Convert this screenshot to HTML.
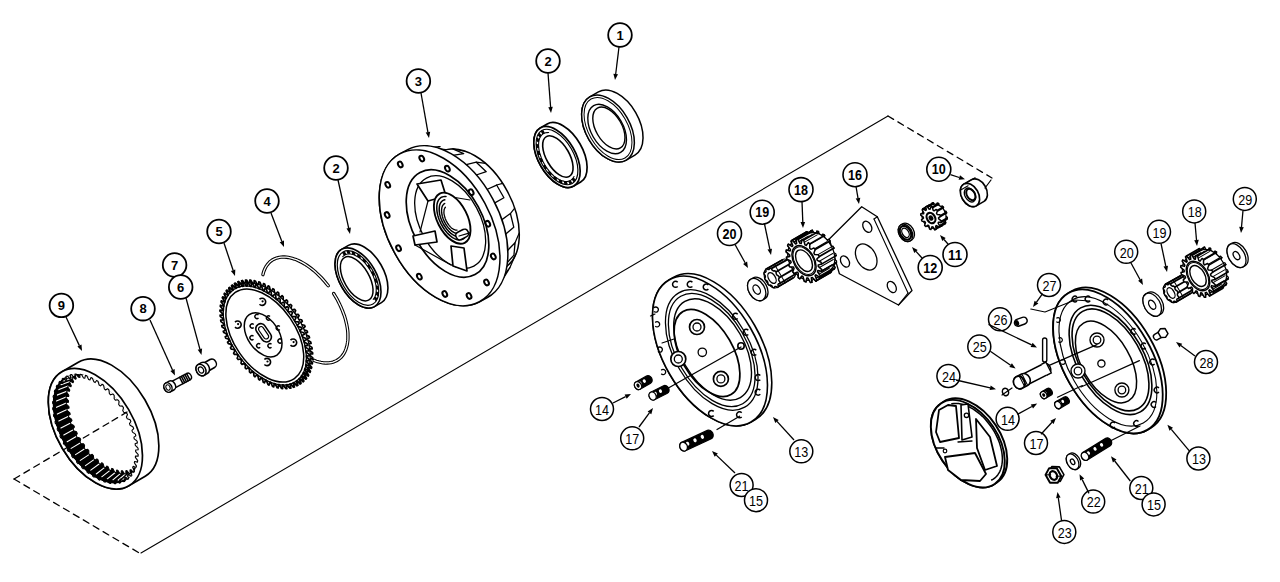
<!DOCTYPE html>
<html><head><meta charset="utf-8"><style>
html,body{margin:0;padding:0;background:#fff;width:1280px;height:582px;overflow:hidden}
svg{display:block}
text{font-family:"Liberation Sans",sans-serif;fill:#000}
</style></head><body>
<svg width="1280" height="582" viewBox="0 0 1280 582">
<rect width="1280" height="582" fill="#fff"/>
<line x1="141.0" y1="553.0" x2="888.0" y2="116.0" stroke="#000" stroke-width="1.1" stroke-linecap="round"/>
<line x1="888.0" y1="116.0" x2="992.0" y2="178.0" stroke="#000" stroke-width="1.3" stroke-linecap="round" stroke-dasharray="6.5,5"/>
<line x1="14.0" y1="479.0" x2="141.0" y2="554.0" stroke="#000" stroke-width="1.3" stroke-linecap="round" stroke-dasharray="6.5,5"/>
<g transform="translate(95.4,428.8) rotate(-30.4)">
<path d="M0.0,-66.1 L19.0,-66.1 A38.4,66.1 0 0 1 19.0,66.1 L0.0,66.1 A38.4,66.1 0 0 1 0.0,-66.1 Z" fill="#fff" stroke="#000" stroke-width="1.7" stroke-linejoin="round"/>
<ellipse cx="0.0" cy="0.0" rx="38.4" ry="66.1" fill="#fff" stroke="#000" stroke-width="1.7"/>
<clipPath id="r9c"><ellipse cx="0" cy="0" rx="34.9" ry="60.2"/></clipPath>
<g clip-path="url(#r9c)">
<ellipse cx="0.0" cy="0.0" rx="34.9" ry="60.2" fill="#000" stroke="#000" stroke-width="0"/>
<line x1="37.4" y1="3.1" x2="46.0" y2="3.0" stroke="#fff" stroke-width="1.1" stroke-linecap="round"/>
<line x1="36.9" y1="10.7" x2="45.5" y2="10.4" stroke="#fff" stroke-width="1.1" stroke-linecap="round"/>
<line x1="35.8" y1="18.2" x2="44.4" y2="17.6" stroke="#fff" stroke-width="1.1" stroke-linecap="round"/>
<line x1="34.1" y1="25.3" x2="42.8" y2="24.5" stroke="#fff" stroke-width="1.1" stroke-linecap="round"/>
<line x1="31.9" y1="32.0" x2="40.7" y2="31.0" stroke="#fff" stroke-width="1.1" stroke-linecap="round"/>
<line x1="29.2" y1="38.2" x2="38.1" y2="36.9" stroke="#fff" stroke-width="1.1" stroke-linecap="round"/>
<line x1="26.1" y1="43.7" x2="35.1" y2="42.2" stroke="#fff" stroke-width="1.1" stroke-linecap="round"/>
<line x1="22.6" y1="48.5" x2="31.7" y2="46.8" stroke="#fff" stroke-width="1.1" stroke-linecap="round"/>
<line x1="18.8" y1="52.4" x2="28.0" y2="50.7" stroke="#fff" stroke-width="1.1" stroke-linecap="round"/>
<line x1="14.7" y1="55.5" x2="24.0" y2="53.6" stroke="#fff" stroke-width="1.1" stroke-linecap="round"/>
<line x1="10.4" y1="57.5" x2="19.9" y2="55.6" stroke="#fff" stroke-width="1.1" stroke-linecap="round"/>
<line x1="5.9" y1="58.6" x2="15.6" y2="56.7" stroke="#fff" stroke-width="1.1" stroke-linecap="round"/>
<line x1="1.5" y1="58.7" x2="11.3" y2="56.8" stroke="#fff" stroke-width="1.1" stroke-linecap="round"/>
<line x1="-3.0" y1="57.8" x2="7.0" y2="55.9" stroke="#fff" stroke-width="1.1" stroke-linecap="round"/>
<line x1="-7.3" y1="55.9" x2="2.8" y2="54.1" stroke="#fff" stroke-width="1.1" stroke-linecap="round"/>
<line x1="-11.5" y1="53.1" x2="-1.2" y2="51.3" stroke="#fff" stroke-width="1.1" stroke-linecap="round"/>
<line x1="-15.4" y1="49.3" x2="-5.0" y2="47.7" stroke="#fff" stroke-width="1.1" stroke-linecap="round"/>
<line x1="-18.9" y1="44.7" x2="-8.4" y2="43.2" stroke="#fff" stroke-width="1.1" stroke-linecap="round"/>
<line x1="-22.1" y1="39.4" x2="-11.5" y2="38.0" stroke="#fff" stroke-width="1.1" stroke-linecap="round"/>
<line x1="-24.9" y1="33.3" x2="-14.2" y2="32.2" stroke="#fff" stroke-width="1.1" stroke-linecap="round"/>
<line x1="-27.2" y1="26.7" x2="-16.4" y2="25.8" stroke="#fff" stroke-width="1.1" stroke-linecap="round"/>
<line x1="-29.0" y1="19.6" x2="-18.1" y2="19.0" stroke="#fff" stroke-width="1.1" stroke-linecap="round"/>
<line x1="-30.2" y1="12.2" x2="-19.3" y2="11.8" stroke="#fff" stroke-width="1.1" stroke-linecap="round"/>
<line x1="-30.8" y1="4.6" x2="-19.9" y2="4.5" stroke="#fff" stroke-width="1.1" stroke-linecap="round"/>
<line x1="-30.9" y1="-3.1" x2="-20.0" y2="-3.0" stroke="#fff" stroke-width="1.1" stroke-linecap="round"/>
<line x1="-30.4" y1="-10.7" x2="-19.5" y2="-10.4" stroke="#fff" stroke-width="1.1" stroke-linecap="round"/>
<line x1="-29.3" y1="-18.2" x2="-18.4" y2="-17.6" stroke="#fff" stroke-width="1.1" stroke-linecap="round"/>
<line x1="-27.6" y1="-25.3" x2="-16.8" y2="-24.5" stroke="#fff" stroke-width="1.1" stroke-linecap="round"/>
<line x1="-25.4" y1="-32.0" x2="-14.7" y2="-31.0" stroke="#fff" stroke-width="1.1" stroke-linecap="round"/>
<line x1="-22.7" y1="-38.2" x2="-12.1" y2="-36.9" stroke="#fff" stroke-width="1.1" stroke-linecap="round"/>
<line x1="-19.6" y1="-43.7" x2="-9.1" y2="-42.2" stroke="#fff" stroke-width="1.1" stroke-linecap="round"/>
<line x1="-16.1" y1="-48.5" x2="-5.7" y2="-46.8" stroke="#fff" stroke-width="1.1" stroke-linecap="round"/>
<line x1="-12.3" y1="-52.4" x2="-2.0" y2="-50.7" stroke="#fff" stroke-width="1.1" stroke-linecap="round"/>
<line x1="-8.2" y1="-55.5" x2="2.0" y2="-53.6" stroke="#fff" stroke-width="1.1" stroke-linecap="round"/>
<line x1="-3.9" y1="-57.5" x2="6.1" y2="-55.6" stroke="#fff" stroke-width="1.1" stroke-linecap="round"/>
<line x1="0.6" y1="-58.6" x2="10.4" y2="-56.7" stroke="#fff" stroke-width="1.1" stroke-linecap="round"/>
<line x1="5.0" y1="-58.7" x2="14.7" y2="-56.8" stroke="#fff" stroke-width="1.1" stroke-linecap="round"/>
<line x1="9.5" y1="-57.8" x2="19.0" y2="-55.9" stroke="#fff" stroke-width="1.1" stroke-linecap="round"/>
<line x1="13.8" y1="-55.9" x2="23.2" y2="-54.1" stroke="#fff" stroke-width="1.1" stroke-linecap="round"/>
<line x1="18.0" y1="-53.1" x2="27.2" y2="-51.3" stroke="#fff" stroke-width="1.1" stroke-linecap="round"/>
<line x1="21.9" y1="-49.3" x2="31.0" y2="-47.7" stroke="#fff" stroke-width="1.1" stroke-linecap="round"/>
<line x1="25.4" y1="-44.7" x2="34.4" y2="-43.2" stroke="#fff" stroke-width="1.1" stroke-linecap="round"/>
<line x1="28.6" y1="-39.4" x2="37.5" y2="-38.0" stroke="#fff" stroke-width="1.1" stroke-linecap="round"/>
<line x1="31.4" y1="-33.3" x2="40.2" y2="-32.2" stroke="#fff" stroke-width="1.1" stroke-linecap="round"/>
<line x1="33.7" y1="-26.7" x2="42.4" y2="-25.8" stroke="#fff" stroke-width="1.1" stroke-linecap="round"/>
<line x1="35.5" y1="-19.6" x2="44.1" y2="-19.0" stroke="#fff" stroke-width="1.1" stroke-linecap="round"/>
<line x1="36.7" y1="-12.2" x2="45.3" y2="-11.8" stroke="#fff" stroke-width="1.1" stroke-linecap="round"/>
<line x1="37.3" y1="-4.6" x2="45.9" y2="-4.5" stroke="#fff" stroke-width="1.1" stroke-linecap="round"/>
<path d="M44.0,0.0 L46.0,1.9 L46.0,3.7 L43.9,5.2 L43.8,7.0 L45.6,9.3 L45.4,11.1 L43.2,12.1 L43.0,13.8 L44.6,16.5 L44.3,18.3 L42.1,18.8 L41.7,20.4 L43.1,23.5 L42.6,25.1 L40.4,25.2 L39.9,26.7 L41.0,30.0 L40.5,31.6 L38.2,31.1 L37.6,32.5 L38.5,36.1 L37.8,37.5 L35.7,36.5 L35.0,37.8 L35.6,41.5 L34.8,42.7 L32.7,41.3 L31.9,42.4 L32.2,46.2 L31.3,47.3 L29.4,45.4 L28.5,46.3 L28.6,50.1 L27.6,51.0 L25.8,48.7 L24.9,49.4 L24.6,53.2 L23.6,53.8 L22.0,51.1 L21.0,51.6 L20.5,55.4 L19.4,55.8 L18.1,52.7 L17.1,53.0 L16.2,56.6 L15.2,56.7 L14.0,53.4 L13.0,53.4 L11.9,56.8 L10.8,56.7 L10.0,53.2 L8.9,53.0 L7.6,56.1 L6.6,55.8 L6.0,52.0 L5.0,51.6 L3.4,54.4 L2.4,53.8 L2.1,50.0 L1.1,49.4 L-0.6,51.8 L-1.6,51.0 L-1.6,47.1 L-2.5,46.3 L-4.4,48.3 L-5.3,47.3 L-5.1,43.4 L-5.9,42.4 L-8.0,43.9 L-8.8,42.7 L-8.2,39.0 L-9.0,37.8 L-11.1,38.9 L-11.8,37.5 L-11.0,33.9 L-11.6,32.5 L-13.8,33.1 L-14.5,31.6 L-13.4,28.2 L-13.9,26.7 L-16.1,26.8 L-16.6,25.1 L-15.3,22.1 L-15.7,20.4 L-17.9,20.0 L-18.3,18.3 L-16.7,15.5 L-17.0,13.8 L-19.2,12.9 L-19.4,11.1 L-17.6,8.7 L-17.8,7.0 L-19.9,5.6 L-20.0,3.7 L-18.0,1.7 L-18.0,0.0 L-20.0,-1.9 L-20.0,-3.7 L-17.9,-5.2 L-17.8,-7.0 L-19.6,-9.3 L-19.4,-11.1 L-17.2,-12.1 L-17.0,-13.8 L-18.6,-16.5 L-18.3,-18.3 L-16.1,-18.8 L-15.7,-20.4 L-17.1,-23.5 L-16.6,-25.1 L-14.4,-25.2 L-13.9,-26.7 L-15.0,-30.0 L-14.5,-31.6 L-12.2,-31.1 L-11.6,-32.5 L-12.5,-36.1 L-11.8,-37.5 L-9.7,-36.5 L-9.0,-37.8 L-9.6,-41.5 L-8.8,-42.7 L-6.7,-41.3 L-5.9,-42.4 L-6.2,-46.2 L-5.3,-47.3 L-3.4,-45.4 L-2.5,-46.3 L-2.6,-50.1 L-1.6,-51.0 L0.2,-48.7 L1.1,-49.4 L1.4,-53.2 L2.4,-53.8 L4.0,-51.1 L5.0,-51.6 L5.5,-55.4 L6.6,-55.8 L7.9,-52.7 L8.9,-53.0 L9.8,-56.6 L10.8,-56.7 L12.0,-53.4 L13.0,-53.4 L14.1,-56.8 L15.2,-56.7 L16.0,-53.2 L17.1,-53.0 L18.4,-56.1 L19.4,-55.8 L20.0,-52.0 L21.0,-51.6 L22.6,-54.4 L23.6,-53.8 L23.9,-50.0 L24.9,-49.4 L26.6,-51.8 L27.6,-51.0 L27.6,-47.1 L28.5,-46.3 L30.4,-48.3 L31.3,-47.3 L31.1,-43.4 L31.9,-42.4 L34.0,-43.9 L34.8,-42.7 L34.2,-39.0 L35.0,-37.8 L37.1,-38.9 L37.8,-37.5 L37.0,-33.9 L37.6,-32.5 L39.8,-33.1 L40.5,-31.6 L39.4,-28.2 L39.9,-26.7 L42.1,-26.8 L42.6,-25.1 L41.3,-22.1 L41.7,-20.4 L43.9,-20.0 L44.3,-18.3 L42.7,-15.5 L43.0,-13.8 L45.2,-12.9 L45.4,-11.1 L43.6,-8.7 L43.8,-7.0 L45.9,-5.6 L46.0,-3.7 L44.0,-1.7 Z" fill="#fff" stroke="#000" stroke-width="1.0" stroke-linejoin="round" stroke-linecap="round"/>
</g>
</g>
<g transform="translate(95.4,428.8) rotate(-30.4)">
<path d="M32.8,0.0 L34.9,2.0 L34.9,3.9 L32.7,5.5 L32.6,7.4 L34.5,9.8 L34.3,11.7 L32.0,12.8 L31.7,14.6 L33.4,17.5 L33.1,19.3 L30.7,19.9 L30.3,21.6 L31.8,24.8 L31.3,26.6 L29.0,26.7 L28.4,28.3 L29.7,31.8 L29.1,33.4 L26.7,32.9 L26.1,34.4 L27.0,38.2 L26.3,39.7 L24.0,38.7 L23.2,40.0 L23.9,43.9 L23.0,45.2 L20.8,43.7 L20.0,44.9 L20.4,48.9 L19.4,50.0 L17.3,48.0 L16.4,49.0 L16.5,53.0 L15.5,53.9 L13.6,51.5 L12.6,52.2 L12.3,56.3 L11.2,57.0 L9.5,54.1 L8.5,54.6 L7.9,58.6 L6.8,59.0 L5.4,55.8 L4.3,56.1 L3.4,59.9 L2.3,60.0 L1.1,56.5 L0.0,56.5 L-1.1,60.1 L-2.3,60.0 L-3.2,56.3 L-4.3,56.1 L-5.7,59.3 L-6.8,59.0 L-7.5,55.1 L-8.5,54.6 L-10.1,57.6 L-11.2,57.0 L-11.6,52.9 L-12.6,52.2 L-14.4,54.8 L-15.5,53.9 L-15.5,49.9 L-16.4,49.0 L-18.5,51.1 L-19.4,50.0 L-19.1,46.0 L-20.0,44.9 L-22.2,46.5 L-23.0,45.2 L-22.5,41.3 L-23.2,40.0 L-25.5,41.1 L-26.3,39.7 L-25.4,35.9 L-26.1,34.4 L-28.4,35.0 L-29.1,33.4 L-27.9,29.9 L-28.4,28.3 L-30.8,28.4 L-31.3,26.6 L-29.9,23.3 L-30.3,21.6 L-32.7,21.2 L-33.1,19.3 L-31.4,16.4 L-31.7,14.6 L-34.0,13.7 L-34.3,11.7 L-32.4,9.2 L-32.6,7.4 L-34.8,5.9 L-34.9,3.9 L-32.8,1.9 L-32.8,0.0 L-34.9,-2.0 L-34.9,-3.9 L-32.7,-5.5 L-32.6,-7.4 L-34.5,-9.8 L-34.3,-11.7 L-32.0,-12.8 L-31.7,-14.6 L-33.4,-17.5 L-33.1,-19.3 L-30.7,-19.9 L-30.3,-21.6 L-31.8,-24.8 L-31.3,-26.6 L-29.0,-26.7 L-28.4,-28.3 L-29.7,-31.8 L-29.1,-33.4 L-26.7,-32.9 L-26.1,-34.4 L-27.0,-38.2 L-26.3,-39.7 L-24.0,-38.7 L-23.2,-40.0 L-23.9,-43.9 L-23.0,-45.2 L-20.8,-43.7 L-20.0,-44.9 L-20.4,-48.9 L-19.4,-50.0 L-17.3,-48.0 L-16.4,-49.0 L-16.5,-53.0 L-15.5,-53.9 L-13.6,-51.5 L-12.6,-52.2 L-12.3,-56.3 L-11.2,-57.0 L-9.5,-54.1 L-8.5,-54.6 L-7.9,-58.6 L-6.8,-59.0 L-5.4,-55.8 L-4.3,-56.1 L-3.4,-59.9 L-2.3,-60.0 L-1.1,-56.5 L-0.0,-56.5 L1.1,-60.1 L2.3,-60.0 L3.2,-56.3 L4.3,-56.1 L5.7,-59.3 L6.8,-59.0 L7.5,-55.1 L8.5,-54.6 L10.1,-57.6 L11.2,-57.0 L11.6,-52.9 L12.6,-52.2 L14.4,-54.8 L15.5,-53.9 L15.5,-49.9 L16.4,-49.0 L18.5,-51.1 L19.4,-50.0 L19.1,-46.0 L20.0,-44.9 L22.2,-46.5 L23.0,-45.2 L22.5,-41.3 L23.2,-40.0 L25.5,-41.1 L26.3,-39.7 L25.4,-35.9 L26.1,-34.4 L28.4,-35.0 L29.1,-33.4 L27.9,-29.9 L28.4,-28.3 L30.8,-28.4 L31.3,-26.6 L29.9,-23.3 L30.3,-21.6 L32.7,-21.2 L33.1,-19.3 L31.4,-16.4 L31.7,-14.6 L34.0,-13.7 L34.3,-11.7 L32.4,-9.2 L32.6,-7.4 L34.8,-5.9 L34.9,-3.9 L32.8,-1.9 Z" fill="none" stroke="#000" stroke-width="1.1" stroke-linejoin="round" stroke-linecap="round"/>
</g>
<line x1="14.0" y1="479.0" x2="112.0" y2="421.0" stroke="#000" stroke-width="1.3" stroke-linecap="round" stroke-dasharray="6.5,5"/>
<line x1="112.0" y1="421.0" x2="127.0" y2="412.0" stroke="#000" stroke-width="1.3" stroke-linecap="round" stroke-dasharray="6.5,5"/>
<g transform="translate(168.0,387.5) rotate(-28.0)">
<path d="M3.0,-3.6 L23.0,-3.6 A3.0,3.6 0 0 1 23.0,3.6 L3.0,3.6 A3.0,3.6 0 0 1 3.0,-3.6 Z" fill="#fff" stroke="#000" stroke-width="1.4" stroke-linejoin="round"/>
<ellipse cx="3.0" cy="0.0" rx="3.0" ry="3.6" fill="#fff" stroke="#000" stroke-width="1.4"/>
<line x1="15.0" y1="-3.6" x2="15.0" y2="3.6" stroke="#000" stroke-width="1.5" stroke-linecap="round"/>
<line x1="17.0" y1="-3.6" x2="17.0" y2="3.6" stroke="#000" stroke-width="1.5" stroke-linecap="round"/>
<line x1="19.0" y1="-3.6" x2="19.0" y2="3.6" stroke="#000" stroke-width="1.5" stroke-linecap="round"/>
<line x1="21.0" y1="-3.6" x2="21.0" y2="3.6" stroke="#000" stroke-width="1.5" stroke-linecap="round"/>
<line x1="23.0" y1="-3.6" x2="23.0" y2="3.6" stroke="#000" stroke-width="1.5" stroke-linecap="round"/>
<path d="M0.0,-5.0 L4.0,-5.0 A3.8,5.0 0 0 1 4.0,5.0 L0.0,5.0 A3.8,5.0 0 0 1 0.0,-5.0 Z" fill="#fff" stroke="#000" stroke-width="1.5" stroke-linejoin="round"/>
<ellipse cx="0.0" cy="0.0" rx="3.8" ry="5.0" fill="#fff" stroke="#000" stroke-width="1.5"/>
<ellipse cx="0.0" cy="0.0" rx="2.0" ry="2.8" fill="none" stroke="#000" stroke-width="1.1"/>
</g>
<g transform="translate(201.0,370.0) rotate(-30.0)">
<path d="M0.0,-4.6 L13.0,-4.6 A4.0,4.6 0 0 1 13.0,4.6 L0.0,4.6 A4.0,4.6 0 0 1 0.0,-4.6 Z" fill="#fff" stroke="#000" stroke-width="1.5" stroke-linejoin="round"/>
<path d="M0.0,-6.2 L4.0,-6.2 A4.6,6.2 0 0 1 4.0,6.2 L0.0,6.2 A4.6,6.2 0 0 1 0.0,-6.2 Z" fill="#fff" stroke="#000" stroke-width="1.5" stroke-linejoin="round"/>
<ellipse cx="0.0" cy="0.0" rx="4.6" ry="6.2" fill="#fff" stroke="#000" stroke-width="1.5"/>
<ellipse cx="0.0" cy="0.0" rx="2.4" ry="3.3" fill="none" stroke="#000" stroke-width="1.2"/>
</g>
<g transform="translate(305.0,310.0) rotate(-33.6)">
<path d="M-15.5,-52.7 L-14.1,-54.0 L-12.6,-55.2 L-11.1,-56.2 L-9.6,-57.1 L-8.1,-57.9 L-6.5,-58.5 L-4.9,-59.0 L-3.3,-59.4 L-1.7,-59.6 L-0.1,-59.7 L1.5,-59.6 L3.0,-59.4 L4.6,-59.1 L6.2,-58.6 L7.8,-58.0 L9.3,-57.3 L10.8,-56.4 L12.3,-55.4 L13.8,-54.2 L15.2,-53.0 L16.6,-51.6 L18.0,-50.0 L19.3,-48.4 L20.6,-46.7 L21.8,-44.8 L23.0,-42.8 L24.1,-40.8 L25.2,-38.6 L26.2,-36.4 L27.1,-34.0 L28.0,-31.6 L28.8,-29.1 L29.6,-26.6 L30.2,-23.9 L30.8,-21.3 L31.4,-18.5 L31.8,-15.8 L32.2,-13.0 L32.5,-10.1 L32.8,-7.3" fill="none" stroke="#000" stroke-width="3.4" stroke-linejoin="round" stroke-linecap="round"/>
<path d="M-15.5,-52.7 L-14.1,-54.0 L-12.6,-55.2 L-11.1,-56.2 L-9.6,-57.1 L-8.1,-57.9 L-6.5,-58.5 L-4.9,-59.0 L-3.3,-59.4 L-1.7,-59.6 L-0.1,-59.7 L1.5,-59.6 L3.0,-59.4 L4.6,-59.1 L6.2,-58.6 L7.8,-58.0 L9.3,-57.3 L10.8,-56.4 L12.3,-55.4 L13.8,-54.2 L15.2,-53.0 L16.6,-51.6 L18.0,-50.0 L19.3,-48.4 L20.6,-46.7 L21.8,-44.8 L23.0,-42.8 L24.1,-40.8 L25.2,-38.6 L26.2,-36.4 L27.1,-34.0 L28.0,-31.6 L28.8,-29.1 L29.6,-26.6 L30.2,-23.9 L30.8,-21.3 L31.4,-18.5 L31.8,-15.8 L32.2,-13.0 L32.5,-10.1 L32.8,-7.3" fill="none" stroke="#fff" stroke-width="1.3" stroke-linejoin="round" stroke-linecap="round"/>
<path d="M33.0,2.1 L32.9,5.4 L32.7,8.6 L32.3,11.9 L31.9,15.0 L31.4,18.2 L30.8,21.3 L30.1,24.3 L29.4,27.3 L28.5,30.2 L27.5,33.0 L26.5,35.6 L25.4,38.2 L24.2,40.7 L22.9,43.0 L21.5,45.2 L20.1,47.3 L18.7,49.2 L17.1,51.0 L15.6,52.6 L13.9,54.1 L12.3,55.4 L10.6,56.5 L8.8,57.5 L7.1,58.3 L5.3,58.9 L3.5,59.4 L1.7,59.6 L-0.1,59.7 L-1.9,59.6 L-3.7,59.3 L-5.5,58.9 L-7.3,58.2 L-9.1,57.4 L-10.8,56.4 L-12.5,55.3 L-14.2,53.9 L-15.8,52.4 L-17.3,50.8 L-18.9,49.0 L-20.3,47.0" fill="none" stroke="#000" stroke-width="3.4" stroke-linejoin="round" stroke-linecap="round"/>
<path d="M33.0,2.1 L32.9,5.4 L32.7,8.6 L32.3,11.9 L31.9,15.0 L31.4,18.2 L30.8,21.3 L30.1,24.3 L29.4,27.3 L28.5,30.2 L27.5,33.0 L26.5,35.6 L25.4,38.2 L24.2,40.7 L22.9,43.0 L21.5,45.2 L20.1,47.3 L18.7,49.2 L17.1,51.0 L15.6,52.6 L13.9,54.1 L12.3,55.4 L10.6,56.5 L8.8,57.5 L7.1,58.3 L5.3,58.9 L3.5,59.4 L1.7,59.6 L-0.1,59.7 L-1.9,59.6 L-3.7,59.3 L-5.5,58.9 L-7.3,58.2 L-9.1,57.4 L-10.8,56.4 L-12.5,55.3 L-14.2,53.9 L-15.8,52.4 L-17.3,50.8 L-18.9,49.0 L-20.3,47.0" fill="none" stroke="#fff" stroke-width="1.3" stroke-linejoin="round" stroke-linecap="round"/>
</g>
<g transform="translate(264.8,335.5) rotate(-34.5)">
<path d="M37.0,0.0 L39.5,1.6 L39.5,3.1 L36.9,4.4 L36.8,5.8 L39.2,7.8 L39.1,9.4 L36.4,10.2 L36.2,11.6 L38.5,14.0 L38.3,15.5 L35.6,15.8 L35.3,17.2 L37.4,20.0 L37.1,21.5 L34.4,21.4 L34.1,22.7 L36.0,25.8 L35.6,27.2 L32.9,26.6 L32.5,27.9 L34.2,31.3 L33.7,32.7 L31.1,31.6 L30.6,32.8 L32.1,36.5 L31.5,37.8 L29.0,36.2 L28.4,37.3 L29.6,41.3 L29.0,42.4 L26.5,40.5 L25.9,41.5 L26.9,45.6 L26.2,46.6 L23.9,44.3 L23.2,45.1 L23.9,49.4 L23.1,50.3 L21.0,47.6 L20.2,48.3 L20.7,52.7 L19.8,53.5 L17.9,50.4 L17.1,51.0 L17.3,55.4 L16.4,56.0 L14.7,52.6 L13.8,53.1 L13.7,57.5 L12.8,58.0 L11.3,54.3 L10.5,54.6 L10.1,59.0 L9.1,59.3 L7.9,55.3 L7.0,55.5 L6.3,59.8 L5.4,59.9 L4.4,55.8 L3.5,55.8 L2.6,60.0 L1.6,59.9 L0.9,55.6 L0.0,55.5 L-1.2,59.5 L-2.1,59.3 L-2.6,54.9 L-3.5,54.6 L-4.9,58.3 L-5.8,58.0 L-6.0,53.5 L-6.8,53.1 L-8.5,56.6 L-9.4,56.0 L-9.3,51.6 L-10.1,51.0 L-12.0,54.2 L-12.8,53.5 L-12.5,49.0 L-13.2,48.3 L-15.3,51.2 L-16.1,50.3 L-15.5,46.0 L-16.2,45.1 L-18.4,47.6 L-19.2,46.6 L-18.2,42.4 L-18.9,41.5 L-21.3,43.5 L-22.0,42.4 L-20.8,38.4 L-21.4,37.3 L-23.9,39.0 L-24.5,37.8 L-23.1,34.0 L-23.6,32.8 L-26.2,34.0 L-26.7,32.7 L-25.0,29.2 L-25.5,27.9 L-28.1,28.6 L-28.6,27.2 L-26.7,24.0 L-27.1,22.7 L-29.8,23.0 L-30.1,21.5 L-28.1,18.6 L-28.3,17.2 L-31.0,17.0 L-31.3,15.5 L-29.1,13.0 L-29.2,11.6 L-31.9,10.9 L-32.1,9.4 L-29.7,7.3 L-29.8,5.8 L-32.4,4.7 L-32.5,3.1 L-30.0,1.5 L-30.0,0.0 L-32.5,-1.6 L-32.5,-3.1 L-29.9,-4.4 L-29.8,-5.8 L-32.2,-7.8 L-32.1,-9.4 L-29.4,-10.2 L-29.2,-11.6 L-31.5,-14.0 L-31.3,-15.5 L-28.6,-15.8 L-28.3,-17.2 L-30.4,-20.0 L-30.1,-21.5 L-27.4,-21.4 L-27.1,-22.7 L-29.0,-25.8 L-28.6,-27.2 L-25.9,-26.6 L-25.5,-27.9 L-27.2,-31.3 L-26.7,-32.7 L-24.1,-31.6 L-23.6,-32.8 L-25.1,-36.5 L-24.5,-37.8 L-22.0,-36.2 L-21.4,-37.3 L-22.6,-41.3 L-22.0,-42.4 L-19.5,-40.5 L-18.9,-41.5 L-19.9,-45.6 L-19.2,-46.6 L-16.9,-44.3 L-16.2,-45.1 L-16.9,-49.4 L-16.1,-50.3 L-14.0,-47.6 L-13.2,-48.3 L-13.7,-52.7 L-12.8,-53.5 L-10.9,-50.4 L-10.1,-51.0 L-10.3,-55.4 L-9.4,-56.0 L-7.7,-52.6 L-6.8,-53.1 L-6.7,-57.5 L-5.8,-58.0 L-4.3,-54.3 L-3.5,-54.6 L-3.1,-59.0 L-2.1,-59.3 L-0.9,-55.3 L0.0,-55.5 L0.7,-59.8 L1.6,-59.9 L2.6,-55.8 L3.5,-55.8 L4.4,-60.0 L5.4,-59.9 L6.1,-55.6 L7.0,-55.5 L8.2,-59.5 L9.1,-59.3 L9.6,-54.9 L10.5,-54.6 L11.9,-58.3 L12.8,-58.0 L13.0,-53.5 L13.8,-53.1 L15.5,-56.6 L16.4,-56.0 L16.3,-51.6 L17.1,-51.0 L19.0,-54.2 L19.8,-53.5 L19.5,-49.0 L20.2,-48.3 L22.3,-51.2 L23.1,-50.3 L22.5,-46.0 L23.2,-45.1 L25.4,-47.6 L26.2,-46.6 L25.2,-42.4 L25.9,-41.5 L28.3,-43.5 L29.0,-42.4 L27.8,-38.4 L28.4,-37.3 L30.9,-39.0 L31.5,-37.8 L30.1,-34.0 L30.6,-32.8 L33.2,-34.0 L33.7,-32.7 L32.0,-29.2 L32.5,-27.9 L35.1,-28.6 L35.6,-27.2 L33.7,-24.0 L34.1,-22.7 L36.8,-23.0 L37.1,-21.5 L35.1,-18.6 L35.3,-17.2 L38.0,-17.0 L38.3,-15.5 L36.1,-13.0 L36.2,-11.6 L38.9,-10.9 L39.1,-9.4 L36.7,-7.3 L36.8,-5.8 L39.4,-4.7 L39.5,-3.1 L37.0,-1.5 Z" fill="#fff" stroke="#000" stroke-width="1.7" stroke-linejoin="round" stroke-linecap="round"/>
<path d="M0.0,-56.7 L3.5,-56.7 A33.9,56.7 0 0 1 3.5,56.7 L0.0,56.7 A33.9,56.7 0 0 1 0.0,-56.7 Z" fill="#fff" stroke="#000" stroke-width="1.2" stroke-linejoin="round"/>
<path d="M33.2,0.0 L35.7,1.6 L35.7,3.1 L33.1,4.4 L33.0,5.8 L35.4,7.8 L35.3,9.3 L32.6,10.1 L32.5,11.5 L34.7,13.9 L34.5,15.5 L31.8,15.8 L31.6,17.2 L33.7,19.9 L33.3,21.4 L30.7,21.2 L30.3,22.6 L32.2,25.7 L31.8,27.1 L29.2,26.5 L28.8,27.8 L30.4,31.2 L29.9,32.5 L27.4,31.4 L26.9,32.6 L28.3,36.3 L27.7,37.6 L25.2,36.1 L24.7,37.2 L25.9,41.1 L25.2,42.2 L22.9,40.3 L22.2,41.3 L23.2,45.4 L22.5,46.4 L20.2,44.0 L19.5,44.9 L20.2,49.2 L19.4,50.1 L17.3,47.3 L16.6,48.1 L17.0,52.5 L16.2,53.2 L14.3,50.1 L13.5,50.7 L13.7,55.2 L12.8,55.7 L11.1,52.3 L10.3,52.8 L10.1,57.2 L9.2,57.7 L7.8,54.0 L6.9,54.3 L6.5,58.7 L5.6,59.0 L4.3,55.0 L3.5,55.2 L2.8,59.5 L1.9,59.6 L0.9,55.5 L0.0,55.5 L-0.9,59.7 L-1.9,59.6 L-2.6,55.3 L-3.5,55.2 L-4.7,59.2 L-5.6,59.0 L-6.1,54.6 L-6.9,54.3 L-8.3,58.1 L-9.2,57.7 L-9.4,53.2 L-10.3,52.8 L-11.9,56.3 L-12.8,55.7 L-12.7,51.3 L-13.5,50.7 L-15.4,53.9 L-16.2,53.2 L-15.8,48.8 L-16.6,48.1 L-18.7,50.9 L-19.4,50.1 L-18.8,45.8 L-19.5,44.9 L-21.7,47.4 L-22.5,46.4 L-21.6,42.2 L-22.2,41.3 L-24.6,43.3 L-25.2,42.2 L-24.1,38.2 L-24.7,37.2 L-27.1,38.8 L-27.7,37.6 L-26.3,33.8 L-26.9,32.6 L-29.4,33.8 L-29.9,32.5 L-28.3,29.0 L-28.8,27.8 L-31.4,28.5 L-31.8,27.1 L-30.0,23.9 L-30.3,22.6 L-33.0,22.8 L-33.3,21.4 L-31.3,18.5 L-31.6,17.2 L-34.2,17.0 L-34.5,15.5 L-32.3,13.0 L-32.5,11.5 L-35.1,10.9 L-35.3,9.3 L-32.9,7.2 L-33.0,5.8 L-35.6,4.7 L-35.7,3.1 L-33.2,1.5 L-33.2,0.0 L-35.7,-1.6 L-35.7,-3.1 L-33.1,-4.4 L-33.0,-5.8 L-35.4,-7.8 L-35.3,-9.3 L-32.6,-10.1 L-32.5,-11.5 L-34.7,-13.9 L-34.5,-15.5 L-31.8,-15.8 L-31.6,-17.2 L-33.7,-19.9 L-33.3,-21.4 L-30.7,-21.2 L-30.3,-22.6 L-32.2,-25.7 L-31.8,-27.1 L-29.2,-26.5 L-28.8,-27.8 L-30.4,-31.2 L-29.9,-32.5 L-27.4,-31.4 L-26.9,-32.6 L-28.3,-36.3 L-27.7,-37.6 L-25.2,-36.1 L-24.7,-37.2 L-25.9,-41.1 L-25.2,-42.2 L-22.9,-40.3 L-22.2,-41.3 L-23.2,-45.4 L-22.5,-46.4 L-20.2,-44.0 L-19.5,-44.9 L-20.2,-49.2 L-19.4,-50.1 L-17.3,-47.3 L-16.6,-48.1 L-17.0,-52.5 L-16.2,-53.2 L-14.3,-50.1 L-13.5,-50.7 L-13.7,-55.2 L-12.8,-55.7 L-11.1,-52.3 L-10.3,-52.8 L-10.1,-57.2 L-9.2,-57.7 L-7.8,-54.0 L-6.9,-54.3 L-6.5,-58.7 L-5.6,-59.0 L-4.3,-55.0 L-3.5,-55.2 L-2.8,-59.5 L-1.9,-59.6 L-0.9,-55.5 L-0.0,-55.5 L0.9,-59.7 L1.9,-59.6 L2.6,-55.3 L3.5,-55.2 L4.7,-59.2 L5.6,-59.0 L6.1,-54.6 L6.9,-54.3 L8.3,-58.1 L9.2,-57.7 L9.4,-53.2 L10.3,-52.8 L11.9,-56.3 L12.8,-55.7 L12.7,-51.3 L13.5,-50.7 L15.4,-53.9 L16.2,-53.2 L15.8,-48.8 L16.6,-48.1 L18.7,-50.9 L19.4,-50.1 L18.8,-45.8 L19.5,-44.9 L21.7,-47.4 L22.5,-46.4 L21.6,-42.2 L22.2,-41.3 L24.6,-43.3 L25.2,-42.2 L24.1,-38.2 L24.7,-37.2 L27.1,-38.8 L27.7,-37.6 L26.3,-33.8 L26.9,-32.6 L29.4,-33.8 L29.9,-32.5 L28.3,-29.0 L28.8,-27.8 L31.4,-28.5 L31.8,-27.1 L30.0,-23.9 L30.3,-22.6 L33.0,-22.8 L33.3,-21.4 L31.3,-18.5 L31.6,-17.2 L34.2,-17.0 L34.5,-15.5 L32.3,-13.0 L32.5,-11.5 L35.1,-10.9 L35.3,-9.3 L32.9,-7.2 L33.0,-5.8 L35.6,-4.7 L35.7,-3.1 L33.2,-1.5 Z" fill="#fff" stroke="#000" stroke-width="1.7" stroke-linejoin="round" stroke-linecap="round"/>
<ellipse cx="0.0" cy="0.0" rx="33.0" ry="55.5" fill="none" stroke="#000" stroke-width="1.3"/>
<ellipse cx="0.0" cy="0.0" rx="30.7" ry="52.2" fill="none" stroke="#000" stroke-width="1.5"/>
<ellipse cx="-1.0" cy="-1.5" rx="15.5" ry="24.5" fill="none" stroke="#000" stroke-width="1.5"/>
</g>
<g transform="translate(263.6,332.8) rotate(-34.5)">
<rect x="-5" y="-10" width="10" height="20" rx="5" fill="#fff" stroke="#000" stroke-width="1.6"/>
<rect x="-2.5" y="-7" width="5" height="14" rx="2.5" fill="none" stroke="#000" stroke-width="1.2"/>
</g>
<path d="M258.5,315.0 A2.1,2.1 0 1 0 258.5,318.0" fill="none" stroke="#000" stroke-width="1.4" transform="rotate(0 257.0 316.5)"/>
<path d="M270.0,316.5 A2.1,2.1 0 1 0 270.0,319.5" fill="none" stroke="#000" stroke-width="1.4" transform="rotate(0 268.5 318.0)"/>
<path d="M279.8,326.5 A2.1,2.1 0 1 0 279.8,329.5" fill="none" stroke="#000" stroke-width="1.4" transform="rotate(0 278.3 328.0)"/>
<path d="M281.5,339.5 A2.1,2.1 0 1 0 281.5,342.5" fill="none" stroke="#000" stroke-width="1.4" transform="rotate(0 280.0 341.0)"/>
<path d="M271.5,344.3 A2.1,2.1 0 1 0 271.5,347.3" fill="none" stroke="#000" stroke-width="1.4" transform="rotate(0 270.0 345.8)"/>
<path d="M260.2,344.3 A2.1,2.1 0 1 0 260.2,347.3" fill="none" stroke="#000" stroke-width="1.4" transform="rotate(0 258.7 345.8)"/>
<path d="M253.5,336.2 A2.1,2.1 0 1 0 253.5,339.2" fill="none" stroke="#000" stroke-width="1.4" transform="rotate(0 252.0 337.7)"/>
<path d="M253.7,324.5 A2.1,2.1 0 1 0 253.7,327.5" fill="none" stroke="#000" stroke-width="1.4" transform="rotate(0 252.2 326.0)"/>
<path d="M264.5,299.3 A3.6,3.6 0 1 0 264.5,304.3" fill="none" stroke="#000" stroke-width="1.6" transform="rotate(180 262.0 301.8)"/>
<circle cx="262.6" cy="301.3" r="1.1" fill="#000"/>
<path d="M240.0,322.1 A3.6,3.6 0 1 0 240.0,327.1" fill="none" stroke="#000" stroke-width="1.6" transform="rotate(180 237.5 324.6)"/>
<circle cx="238.1" cy="324.1" r="1.1" fill="#000"/>
<path d="M295.5,340.1 A3.6,3.6 0 1 0 295.5,345.1" fill="none" stroke="#000" stroke-width="1.6" transform="rotate(180 293.0 342.6)"/>
<circle cx="293.6" cy="342.1" r="1.1" fill="#000"/>
<path d="M269.4,359.5 A3.6,3.6 0 1 0 269.4,364.5" fill="none" stroke="#000" stroke-width="1.6" transform="rotate(180 266.9 362.0)"/>
<circle cx="267.5" cy="361.5" r="1.1" fill="#000"/>
<g transform="translate(358.0,278.0) rotate(-30.0)">
<path d="M0.0,-33.0 L8.0,-33.0 A18.5,33.0 0 0 1 8.0,33.0 L0.0,33.0 A18.5,33.0 0 0 1 0.0,-33.0 Z" fill="#fff" stroke="#000" stroke-width="1.6" stroke-linejoin="round"/>
<ellipse cx="0.0" cy="0.0" rx="18.5" ry="33.0" fill="#fff" stroke="#000" stroke-width="1.6"/>
<ellipse cx="0.0" cy="0.0" rx="16.5" ry="30.0" fill="none" stroke="#000" stroke-width="1.2"/>
<path d="M-2.5,-26.1 L-1.4,-26.4 L-0.3,-26.5 L0.9,-26.5 L2.0,-26.2 L3.1,-25.9 L4.2,-25.3 L5.3,-24.7 L6.4,-23.8 L7.4,-22.8 L8.3,-21.7 L9.2,-20.4 L10.1,-19.1 L10.9,-17.6 L11.6,-15.9 L12.2,-14.2 L12.8,-12.4 L13.3,-10.6 L13.7,-8.6 L14.0,-6.6 L14.3,-4.6 L14.4,-2.5 L14.5,-0.5 L14.5,1.6 L14.4,3.7 L14.2,5.7 L13.9,7.7 L13.5,9.7 L13.0,11.6 L12.5,13.4 L11.9,15.2 L11.2,16.9 L10.4,18.4 L9.6,19.8 L8.7,21.2 L7.8,22.3 L6.8,23.4 L5.8,24.3 L4.7,25.1 L3.6,25.7 L2.5,26.1" fill="none" stroke="#000" stroke-width="1.1" stroke-linejoin="round" stroke-linecap="round"/>
<path d="M-0.5,-27.2 L-0.6,-29.3 L1.4,-29.2 L1.3,-27.1 Z" fill="#000" stroke="#000" stroke-width="1.0" stroke-linejoin="round" stroke-linecap="round"/>
<path d="M3.6,-26.4 L3.9,-28.4 L5.7,-27.4 L5.3,-25.4 Z" fill="#000" stroke="#000" stroke-width="1.0" stroke-linejoin="round" stroke-linecap="round"/>
<path d="M7.4,-23.6 L8.0,-25.4 L9.6,-23.4 L8.9,-21.8 Z" fill="#000" stroke="#000" stroke-width="1.0" stroke-linejoin="round" stroke-linecap="round"/>
<path d="M10.6,-18.9 L11.5,-20.4 L12.8,-17.7 L11.8,-16.4 Z" fill="#000" stroke="#000" stroke-width="1.0" stroke-linejoin="round" stroke-linecap="round"/>
<path d="M13.1,-12.8 L14.1,-13.8 L14.9,-10.6 L13.8,-9.8 Z" fill="#000" stroke="#000" stroke-width="1.0" stroke-linejoin="round" stroke-linecap="round"/>
<path d="M14.5,-5.7 L15.7,-6.1 L15.9,-2.6 L14.7,-2.4 Z" fill="#000" stroke="#000" stroke-width="1.0" stroke-linejoin="round" stroke-linecap="round"/>
<path d="M14.8,1.9 L16.0,2.0 L15.7,5.5 L14.5,5.1 Z" fill="#000" stroke="#000" stroke-width="1.0" stroke-linejoin="round" stroke-linecap="round"/>
<path d="M13.9,9.3 L15.0,10.0 L14.3,13.2 L13.2,12.3 Z" fill="#000" stroke="#000" stroke-width="1.0" stroke-linejoin="round" stroke-linecap="round"/>
<path d="M12.0,16.0 L12.9,17.2 L11.7,19.9 L10.8,18.5 Z" fill="#000" stroke="#000" stroke-width="1.0" stroke-linejoin="round" stroke-linecap="round"/>
<path d="M9.1,21.4 L9.9,23.1 L8.3,25.1 L7.7,23.3 Z" fill="#000" stroke="#000" stroke-width="1.0" stroke-linejoin="round" stroke-linecap="round"/>
<path d="M5.5,25.2 L6.0,27.2 L4.2,28.3 L3.9,26.3 Z" fill="#000" stroke="#000" stroke-width="1.0" stroke-linejoin="round" stroke-linecap="round"/>
<ellipse cx="-1.5" cy="0.0" rx="12.5" ry="24.5" fill="none" stroke="#000" stroke-width="1.5"/>
</g>
<g transform="translate(439.6,227.8) rotate(-28.3)">
<path d="M9.0,-82.0 L37.0,-66.0 A40.0,66.0 0 0 1 37.0,66.0 L9.0,82.0 A50.0,82.0 0 0 1 9.0,-82.0 Z" fill="#fff" stroke="#000" stroke-width="1.5" stroke-linejoin="round"/>
<path d="M17.7,-80.8 L29.7,-75.1 L38.9,-71.2 L26.9,-76.6 Z" fill="#fff" stroke="#000" stroke-width="1.3" stroke-linejoin="round" stroke-linecap="round"/>
<line x1="29.7" y1="-75.1" x2="43.9" y2="-65.0" stroke="#000" stroke-width="1.2" stroke-linecap="round"/>
<path d="M37.0,-68.0 L49.0,-63.2 L56.4,-53.9 L44.4,-58.0 Z" fill="#fff" stroke="#000" stroke-width="1.3" stroke-linejoin="round" stroke-linecap="round"/>
<line x1="49.0" y1="-63.2" x2="59.4" y2="-54.7" stroke="#000" stroke-width="1.2" stroke-linecap="round"/>
<path d="M51.4,-43.5 L63.4,-40.4 L67.7,-27.3 L55.7,-29.4 Z" fill="#fff" stroke="#000" stroke-width="1.3" stroke-linejoin="round" stroke-linecap="round"/>
<line x1="63.4" y1="-40.4" x2="70.9" y2="-35.0" stroke="#000" stroke-width="1.2" stroke-linecap="round"/>
<path d="M58.5,-11.4 L70.5,-10.6 L70.9,4.0 L58.9,4.3 Z" fill="#fff" stroke="#000" stroke-width="1.3" stroke-linejoin="round" stroke-linecap="round"/>
<line x1="70.5" y1="-10.6" x2="76.6" y2="-9.2" stroke="#000" stroke-width="1.2" stroke-linecap="round"/>
<path d="M57.1,22.6 L69.1,21.0 L65.6,34.6 L53.6,37.2 Z" fill="#fff" stroke="#000" stroke-width="1.3" stroke-linejoin="round" stroke-linecap="round"/>
<line x1="69.1" y1="21.0" x2="75.5" y2="18.2" stroke="#000" stroke-width="1.2" stroke-linecap="round"/>
<path d="M47.3,52.7 L59.3,49.0 L52.5,59.3 L40.5,63.7 Z" fill="#fff" stroke="#000" stroke-width="1.3" stroke-linejoin="round" stroke-linecap="round"/>
<line x1="59.3" y1="49.0" x2="67.6" y2="42.4" stroke="#000" stroke-width="1.2" stroke-linecap="round"/>
<path d="M30.9,73.7 L42.9,68.5 L33.9,73.7 L21.9,79.2 Z" fill="#fff" stroke="#000" stroke-width="1.3" stroke-linejoin="round" stroke-linecap="round"/>
<line x1="42.9" y1="68.5" x2="54.5" y2="59.3" stroke="#000" stroke-width="1.2" stroke-linecap="round"/>
<path d="M0.0,-84.0 L9.0,-84.0 A51.5,84.0 0 0 1 9.0,84.0 L0.0,84.0 A51.5,84.0 0 0 1 0.0,-84.0 Z" fill="#fff" stroke="#000" stroke-width="1.5" stroke-linejoin="round"/>
<ellipse cx="0.0" cy="0.0" rx="51.5" ry="84.0" fill="#fff" stroke="#000" stroke-width="1.5"/>
<ellipse cx="44.3" cy="19.3" rx="2.1" ry="3.0" fill="none" stroke="#000" stroke-width="2.0"/>
<ellipse cx="33.7" cy="50.7" rx="2.1" ry="3.0" fill="none" stroke="#000" stroke-width="2.0"/>
<ellipse cx="15.4" cy="70.4" rx="2.1" ry="3.0" fill="none" stroke="#000" stroke-width="2.0"/>
<ellipse cx="-6.4" cy="74.0" rx="2.1" ry="3.0" fill="none" stroke="#000" stroke-width="2.0"/>
<ellipse cx="-26.8" cy="60.7" rx="2.1" ry="3.0" fill="none" stroke="#000" stroke-width="2.0"/>
<ellipse cx="-41.0" cy="33.4" rx="2.1" ry="3.0" fill="none" stroke="#000" stroke-width="2.0"/>
<ellipse cx="-45.8" cy="-1.5" rx="2.1" ry="3.0" fill="none" stroke="#000" stroke-width="2.0"/>
<ellipse cx="-40.1" cy="-36.1" rx="2.1" ry="3.0" fill="none" stroke="#000" stroke-width="2.0"/>
<ellipse cx="-25.3" cy="-62.4" rx="2.1" ry="3.0" fill="none" stroke="#000" stroke-width="2.0"/>
<ellipse cx="-4.6" cy="-74.4" rx="2.1" ry="3.0" fill="none" stroke="#000" stroke-width="2.0"/>
<ellipse cx="17.1" cy="-69.4" rx="2.1" ry="3.0" fill="none" stroke="#000" stroke-width="2.0"/>
<ellipse cx="34.9" cy="-48.4" rx="2.1" ry="3.0" fill="none" stroke="#000" stroke-width="2.0"/>
<ellipse cx="44.7" cy="-16.4" rx="2.1" ry="3.0" fill="none" stroke="#000" stroke-width="2.0"/>
<ellipse cx="9.0" cy="0.0" rx="35.0" ry="58.0" fill="none" stroke="#000" stroke-width="1.7"/>
<ellipse cx="12.0" cy="0.0" rx="30.0" ry="50.0" fill="none" stroke="#000" stroke-width="1.3"/>
</g>
<path d="M417.0,184.0 L441.0,180.0 L446.0,196.0 L428.0,201.0 Z" fill="#fff" stroke="#000" stroke-width="1.7" stroke-linejoin="round" stroke-linecap="round"/>
<path d="M413.0,236.0 L435.0,231.0 L437.0,242.0 L415.0,245.0 Z" fill="#fff" stroke="#000" stroke-width="1.7" stroke-linejoin="round" stroke-linecap="round"/>
<path d="M451.0,246.0 L464.0,248.0 L467.0,271.0 L453.0,266.0 Z" fill="#fff" stroke="#000" stroke-width="1.7" stroke-linejoin="round" stroke-linecap="round"/>
<line x1="428.0" y1="201.0" x2="420.0" y2="232.0" stroke="#000" stroke-width="1.2" stroke-linecap="round"/>
<line x1="415.0" y1="245.0" x2="451.0" y2="265.0" stroke="#000" stroke-width="1.2" stroke-linecap="round"/>
<line x1="446.0" y1="196.0" x2="470.0" y2="200.0" stroke="#000" stroke-width="1.1" stroke-linecap="round"/>
<g transform="translate(452.2,218.2) rotate(-27.0)">
<ellipse cx="0.0" cy="0.0" rx="15.0" ry="27.6" fill="#fff" stroke="#000" stroke-width="1.9"/>
<path d="M4.3,22.1 L3.1,22.8 L2.0,23.2 L0.8,23.5 L-0.4,23.5 L-1.6,23.3 L-2.8,22.9 L-4.0,22.3 L-5.1,21.5 L-6.2,20.5 L-7.2,19.3 L-8.1,17.9 L-9.0,16.3 L-9.8,14.6 L-10.5,12.8 L-11.1,10.9 L-11.6,8.8 L-12.0,6.7 L-12.3,4.5 L-12.4,2.3 L-12.5,0.0 L-12.4,-2.3 L-12.3,-4.5 L-12.0,-6.7 L-11.6,-8.8 L-11.1,-10.9 L-10.5,-12.8 L-9.8,-14.6 L-9.0,-16.3 L-8.1,-17.9 L-7.2,-19.3 L-6.2,-20.5 L-5.1,-21.5 L-4.0,-22.3 L-2.8,-22.9 L-1.6,-23.3 L-0.4,-23.5 L0.8,-23.5 L2.0,-23.2 L3.1,-22.8 L4.3,-22.1" fill="none" stroke="#000" stroke-width="1.5" stroke-linejoin="round" stroke-linecap="round"/>
<path d="M1.8,19.7 L0.9,19.9 L0.0,20.0 L-0.9,19.9 L-1.8,19.7 L-2.7,19.3 L-3.6,18.8 L-4.4,18.1 L-5.2,17.3 L-6.0,16.4 L-6.7,15.3 L-7.4,14.1 L-8.0,12.9 L-8.6,11.5 L-9.1,10.0 L-9.5,8.5 L-9.9,6.8 L-10.1,5.2 L-10.3,3.5 L-10.5,1.7 L-10.5,0.0 L-10.5,-1.7 L-10.3,-3.5 L-10.1,-5.2 L-9.9,-6.8 L-9.5,-8.5 L-9.1,-10.0 L-8.6,-11.5 L-8.0,-12.9 L-7.4,-14.1 L-6.7,-15.3 L-6.0,-16.4 L-5.3,-17.3 L-4.4,-18.1 L-3.6,-18.8 L-2.7,-19.3 L-1.8,-19.7 L-0.9,-19.9 L-0.0,-20.0 L0.9,-19.9 L1.8,-19.7" fill="none" stroke="#000" stroke-width="1.5" stroke-linejoin="round" stroke-linecap="round"/>
<path d="M0.0,16.5 L-0.7,16.4 L-1.3,16.3 L-2.0,16.0 L-2.6,15.7 L-3.3,15.2 L-3.9,14.7 L-4.4,14.1 L-5.0,13.3 L-5.5,12.5 L-6.0,11.7 L-6.5,10.7 L-6.9,9.7 L-7.2,8.6 L-7.6,7.5 L-7.9,6.3 L-8.1,5.1 L-8.3,3.9 L-8.4,2.6 L-8.5,1.3 L-8.5,0.0 L-8.5,-1.3 L-8.4,-2.6 L-8.3,-3.9 L-8.1,-5.1 L-7.9,-6.3 L-7.6,-7.5 L-7.2,-8.6 L-6.9,-9.7 L-6.5,-10.7 L-6.0,-11.7 L-5.5,-12.5 L-5.0,-13.3 L-4.4,-14.1 L-3.9,-14.7 L-3.3,-15.2 L-2.6,-15.7 L-2.0,-16.0 L-1.3,-16.3 L-0.7,-16.4 L-0.0,-16.5" fill="none" stroke="#000" stroke-width="1.4" stroke-linejoin="round" stroke-linecap="round"/>
<path d="M-1.1,12.8 L-1.6,12.6 L-2.0,12.4 L-2.4,12.1 L-2.8,11.7 L-3.2,11.3 L-3.6,10.8 L-4.0,10.2 L-4.3,9.7 L-4.7,9.0 L-5.0,8.4 L-5.3,7.6 L-5.5,6.9 L-5.7,6.1 L-5.9,5.3 L-6.1,4.4 L-6.2,3.6 L-6.4,2.7 L-6.4,1.8 L-6.5,0.9 L-6.5,0.0 L-6.5,-0.9 L-6.4,-1.8 L-6.4,-2.7 L-6.2,-3.6 L-6.1,-4.4 L-5.9,-5.3 L-5.7,-6.1 L-5.5,-6.9 L-5.3,-7.6 L-5.0,-8.4 L-4.7,-9.0 L-4.3,-9.7 L-4.0,-10.2 L-3.6,-10.8 L-3.3,-11.3 L-2.8,-11.7 L-2.4,-12.1 L-2.0,-12.4 L-1.6,-12.6 L-1.1,-12.8" fill="none" stroke="#000" stroke-width="1.3" stroke-linejoin="round" stroke-linecap="round"/>
<rect x="-5" y="15" width="13" height="8" rx="3.5" fill="#fff" stroke="#000" stroke-width="1.5"/>
<line x1="-2.0" y1="19.0" x2="9.0" y2="21.0" stroke="#000" stroke-width="1.2" stroke-linecap="round"/>
</g>
<g transform="translate(557.0,157.0) rotate(-30.0)">
<path d="M0.0,-33.5 L8.0,-33.5 A18.5,33.5 0 0 1 8.0,33.5 L0.0,33.5 A18.5,33.5 0 0 1 0.0,-33.5 Z" fill="#fff" stroke="#000" stroke-width="1.7" stroke-linejoin="round"/>
<ellipse cx="0.0" cy="0.0" rx="18.5" ry="33.5" fill="#fff" stroke="#000" stroke-width="1.7"/>
<ellipse cx="0.0" cy="0.0" rx="16.5" ry="30.5" fill="none" stroke="#000" stroke-width="1.2"/>
<path d="M5.0,25.4 L3.6,26.1 L2.3,26.7 L0.9,26.9 L-0.5,27.0 L-1.9,26.8 L-3.3,26.3 L-4.6,25.6 L-5.9,24.7 L-7.1,23.5 L-8.3,22.1 L-9.4,20.5 L-10.4,18.8 L-11.3,16.8 L-12.2,14.7 L-12.9,12.5 L-13.4,10.1 L-13.9,7.7 L-14.2,5.2 L-14.4,2.6 L-14.5,0.0 L-14.4,-2.6 L-14.2,-5.2 L-13.9,-7.7 L-13.4,-10.1 L-12.9,-12.5 L-12.2,-14.7 L-11.3,-16.8 L-10.4,-18.8 L-9.4,-20.5 L-8.3,-22.1 L-7.1,-23.5 L-5.9,-24.7 L-4.6,-25.6 L-3.3,-26.3 L-1.9,-26.8 L-0.5,-27.0 L0.9,-26.9 L2.3,-26.7 L3.6,-26.1 L5.0,-25.4" fill="none" stroke="#000" stroke-width="1.1" stroke-linejoin="round" stroke-linecap="round"/>
<path d="M3.8,26.6 L4.2,28.8 L2.3,29.5 L2.1,27.2 Z" fill="#000" stroke="#000" stroke-width="1.0" stroke-linejoin="round" stroke-linecap="round"/>
<path d="M-0.3,27.5 L-0.3,29.8 L-2.2,29.5 L-2.0,27.2 Z" fill="#000" stroke="#000" stroke-width="1.0" stroke-linejoin="round" stroke-linecap="round"/>
<path d="M-4.3,26.3 L-4.7,28.5 L-6.6,27.2 L-6.0,25.1 Z" fill="#000" stroke="#000" stroke-width="1.0" stroke-linejoin="round" stroke-linecap="round"/>
<path d="M-8.1,23.1 L-8.8,25.0 L-10.4,22.9 L-9.5,21.1 Z" fill="#000" stroke="#000" stroke-width="1.0" stroke-linejoin="round" stroke-linecap="round"/>
<path d="M-11.2,18.0 L-12.2,19.6 L-13.4,16.7 L-12.3,15.4 Z" fill="#000" stroke="#000" stroke-width="1.0" stroke-linejoin="round" stroke-linecap="round"/>
<path d="M-13.4,11.6 L-14.7,12.6 L-15.4,9.3 L-14.1,8.6 Z" fill="#000" stroke="#000" stroke-width="1.0" stroke-linejoin="round" stroke-linecap="round"/>
<path d="M-14.6,4.3 L-16.0,4.7 L-16.2,1.1 L-14.8,1.0 Z" fill="#000" stroke="#000" stroke-width="1.0" stroke-linejoin="round" stroke-linecap="round"/>
<path d="M-14.7,-3.4 L-16.1,-3.6 L-15.7,-7.1 L-14.4,-6.6 Z" fill="#000" stroke="#000" stroke-width="1.0" stroke-linejoin="round" stroke-linecap="round"/>
<path d="M-13.6,-10.7 L-14.9,-11.6 L-14.0,-14.8 L-12.8,-13.7 Z" fill="#000" stroke="#000" stroke-width="1.0" stroke-linejoin="round" stroke-linecap="round"/>
<path d="M-11.5,-17.3 L-12.6,-18.8 L-11.3,-21.4 L-10.3,-19.7 Z" fill="#000" stroke="#000" stroke-width="1.0" stroke-linejoin="round" stroke-linecap="round"/>
<path d="M-8.5,-22.5 L-9.3,-24.4 L-7.6,-26.3 L-7.0,-24.3 Z" fill="#000" stroke="#000" stroke-width="1.0" stroke-linejoin="round" stroke-linecap="round"/>
<path d="M-4.8,-26.0 L-5.3,-28.2 L-3.4,-29.1 L-3.1,-26.9 Z" fill="#000" stroke="#000" stroke-width="1.0" stroke-linejoin="round" stroke-linecap="round"/>
<path d="M-0.8,-27.5 L-0.8,-29.8 L1.1,-29.7 L1.0,-27.4 Z" fill="#000" stroke="#000" stroke-width="1.0" stroke-linejoin="round" stroke-linecap="round"/>
<ellipse cx="1.0" cy="0.0" rx="11.5" ry="23.0" fill="none" stroke="#000" stroke-width="1.6"/>
</g>
<g transform="translate(608.0,128.5) rotate(-30.0)">
<path d="M0.0,-36.5 L10.0,-36.5 A22.0,36.5 0 0 1 10.0,36.5 L0.0,36.5 A22.0,36.5 0 0 1 0.0,-36.5 Z" fill="#fff" stroke="#000" stroke-width="1.5" stroke-linejoin="round"/>
<ellipse cx="0.0" cy="0.0" rx="22.0" ry="36.5" fill="#fff" stroke="#000" stroke-width="1.5"/>
<ellipse cx="0.0" cy="0.0" rx="19.5" ry="34.0" fill="none" stroke="#000" stroke-width="1.0"/>
<ellipse cx="-1.0" cy="0.0" rx="16.0" ry="27.0" fill="none" stroke="#000" stroke-width="1.4"/>
<ellipse cx="1.0" cy="0.0" rx="13.0" ry="23.0" fill="none" stroke="#000" stroke-width="1.4"/>
</g>
<circle cx="620.0" cy="35.0" r="11.8" fill="#fff" stroke="#000" stroke-width="1.8"/>
<text x="620.0" y="39.7" font-size="13" font-weight="bold" text-anchor="middle">1</text>
<line x1="619.0" y1="47.0" x2="615.7" y2="74.0" stroke="#000" stroke-width="1.3"/>
<path d="M615.0,80.0 L613.4,73.8 L618.0,74.3 Z" fill="#000"/>
<circle cx="548.0" cy="61.0" r="11.8" fill="#fff" stroke="#000" stroke-width="1.8"/>
<text x="548.0" y="65.7" font-size="13" font-weight="bold" text-anchor="middle">2</text>
<line x1="548.0" y1="73.0" x2="550.6" y2="107.0" stroke="#000" stroke-width="1.3"/>
<path d="M551.0,113.0 L548.3,107.2 L552.8,106.8 Z" fill="#000"/>
<circle cx="418.4" cy="81.0" r="11.8" fill="#fff" stroke="#000" stroke-width="1.8"/>
<text x="418.4" y="85.7" font-size="13" font-weight="bold" text-anchor="middle">3</text>
<line x1="421.0" y1="93.0" x2="427.9" y2="132.1" stroke="#000" stroke-width="1.3"/>
<path d="M429.0,138.0 L425.7,132.5 L430.2,131.7 Z" fill="#000"/>
<circle cx="336.0" cy="168.0" r="11.8" fill="#fff" stroke="#000" stroke-width="1.8"/>
<text x="336.0" y="172.7" font-size="13" font-weight="bold" text-anchor="middle">2</text>
<line x1="338.0" y1="180.0" x2="348.7" y2="228.1" stroke="#000" stroke-width="1.3"/>
<path d="M350.0,234.0 L346.5,228.6 L350.9,227.6 Z" fill="#000"/>
<circle cx="267.0" cy="201.0" r="11.8" fill="#fff" stroke="#000" stroke-width="1.8"/>
<text x="267.0" y="205.7" font-size="13" font-weight="bold" text-anchor="middle">4</text>
<line x1="271.0" y1="213.0" x2="281.9" y2="241.4" stroke="#000" stroke-width="1.3"/>
<path d="M284.0,247.0 L279.7,242.2 L284.0,240.6 Z" fill="#000"/>
<circle cx="219.0" cy="231.5" r="11.8" fill="#fff" stroke="#000" stroke-width="1.8"/>
<text x="219.0" y="236.2" font-size="13" font-weight="bold" text-anchor="middle">5</text>
<line x1="224.0" y1="243.0" x2="233.1" y2="270.3" stroke="#000" stroke-width="1.3"/>
<path d="M235.0,276.0 L230.9,271.0 L235.3,269.6 Z" fill="#000"/>
<circle cx="174.6" cy="265.0" r="11.8" fill="#fff" stroke="#000" stroke-width="1.8"/>
<text x="174.6" y="269.7" font-size="13" font-weight="bold" text-anchor="middle">7</text>
<circle cx="180.7" cy="287.0" r="11.8" fill="#fff" stroke="#000" stroke-width="1.8"/>
<text x="180.7" y="291.7" font-size="13" font-weight="bold" text-anchor="middle">6</text>
<line x1="186.0" y1="298.0" x2="199.9" y2="349.2" stroke="#000" stroke-width="1.3"/>
<path d="M201.5,355.0 L197.7,349.8 L202.1,348.6 Z" fill="#000"/>
<circle cx="143.0" cy="308.7" r="11.8" fill="#fff" stroke="#000" stroke-width="1.8"/>
<text x="143.0" y="313.4" font-size="13" font-weight="bold" text-anchor="middle">8</text>
<line x1="150.0" y1="320.0" x2="172.5" y2="370.0" stroke="#000" stroke-width="1.3"/>
<path d="M175.0,375.5 L170.4,371.0 L174.6,369.1 Z" fill="#000"/>
<circle cx="61.4" cy="305.4" r="11.8" fill="#fff" stroke="#000" stroke-width="1.8"/>
<text x="61.4" y="310.1" font-size="13" font-weight="bold" text-anchor="middle">9</text>
<line x1="66.0" y1="317.0" x2="79.4" y2="345.6" stroke="#000" stroke-width="1.3"/>
<path d="M82.0,351.0 L77.4,346.6 L81.5,344.6 Z" fill="#000"/>
<g transform="translate(710.0,351.0) rotate(-30.0)">
<path d="M0.0,-82.0 L5.0,-82.0 A46.5,82.0 0 0 1 5.0,82.0 L0.0,82.0 A46.5,82.0 0 0 1 0.0,-82.0 Z" fill="#fff" stroke="#000" stroke-width="1.6" stroke-linejoin="round"/>
<ellipse cx="0.0" cy="0.0" rx="46.5" ry="82.0" fill="#fff" stroke="#000" stroke-width="1.6"/>
<ellipse cx="2.0" cy="0.0" rx="37.5" ry="66.0" fill="none" stroke="#000" stroke-width="1.3"/>
<ellipse cx="2.0" cy="0.0" rx="35.0" ry="62.0" fill="none" stroke="#000" stroke-width="1.3"/>
<ellipse cx="3.0" cy="0.0" rx="31.5" ry="55.5" fill="none" stroke="#000" stroke-width="1.4"/>
</g>
<path d="M677.7,282.2 A3.0,3.0 0 1 0 677.7,286.4" fill="none" stroke="#000" stroke-width="1.5" transform="rotate(0 675.6 284.3)"/>
<path d="M692.4,282.2 A3.0,3.0 0 1 0 692.4,286.4" fill="none" stroke="#000" stroke-width="1.5" transform="rotate(0 690.3 284.3)"/>
<path d="M708.4,284.9 A3.0,3.0 0 1 0 708.4,289.1" fill="none" stroke="#000" stroke-width="1.5" transform="rotate(0 706.3 287.0)"/>
<path d="M737.7,314.2 A3.0,3.0 0 1 0 737.7,318.4" fill="none" stroke="#000" stroke-width="1.5" transform="rotate(0 735.6 316.3)"/>
<path d="M748.3,330.2 A3.0,3.0 0 1 0 748.3,334.4" fill="none" stroke="#000" stroke-width="1.5" transform="rotate(0 746.2 332.3)"/>
<path d="M756.3,350.2 A3.0,3.0 0 1 0 756.3,354.4" fill="none" stroke="#000" stroke-width="1.5" transform="rotate(0 754.2 352.3)"/>
<path d="M760.3,375.5 A3.0,3.0 0 1 0 760.3,379.7" fill="none" stroke="#000" stroke-width="1.5" transform="rotate(0 758.2 377.6)"/>
<path d="M760.3,390.1 A3.0,3.0 0 1 0 760.3,394.3" fill="none" stroke="#000" stroke-width="1.5" transform="rotate(0 758.2 392.2)"/>
<path d="M741.7,412.7 A3.0,3.0 0 1 0 741.7,416.9" fill="none" stroke="#000" stroke-width="1.5" transform="rotate(0 739.6 414.8)"/>
<path d="M713.7,411.4 A3.0,3.0 0 1 0 713.7,415.6" fill="none" stroke="#000" stroke-width="1.5" transform="rotate(0 711.6 413.5)"/>
<path d="M657.5,307.8 A2.6,2.6 0 1 0 657.5,311.4" fill="none" stroke="#000" stroke-width="1.3" transform="rotate(180 655.7 309.6)"/>
<path d="M658.8,322.5 A2.6,2.6 0 1 0 658.8,326.1" fill="none" stroke="#000" stroke-width="1.3" transform="rotate(180 657.0 324.3)"/>
<path d="M661.5,347.8 A2.6,2.6 0 1 0 661.5,351.4" fill="none" stroke="#000" stroke-width="1.3" transform="rotate(180 659.7 349.6)"/>
<path d="M664.8,370.2 A2.6,2.6 0 1 0 664.8,373.8" fill="none" stroke="#000" stroke-width="1.3" transform="rotate(180 663.0 372.0)"/>
<line x1="650.5" y1="316.0" x2="655.0" y2="314.0" stroke="#000" stroke-width="1.2" stroke-linecap="round"/>
<g transform="translate(707.0,353.0) rotate(-30.0)">
<ellipse cx="0.0" cy="0.0" rx="26.0" ry="48.0" fill="none" stroke="#000" stroke-width="1.7"/>
</g>
<circle cx="697.0" cy="327.0" r="7.5" fill="#fff" stroke="#000" stroke-width="1.7"/>
<circle cx="697.0" cy="327.0" r="4" fill="none" stroke="#000" stroke-width="1.3"/>
<circle cx="678.3" cy="359.0" r="7.5" fill="#fff" stroke="#000" stroke-width="1.7"/>
<circle cx="678.3" cy="359.0" r="4" fill="none" stroke="#000" stroke-width="1.3"/>
<circle cx="720.9" cy="378.9" r="7.5" fill="#fff" stroke="#000" stroke-width="1.7"/>
<circle cx="720.9" cy="378.9" r="4" fill="none" stroke="#000" stroke-width="1.3"/>
<circle cx="702.3" cy="352.3" r="4.2" fill="none" stroke="#000" stroke-width="1.3"/>
<circle cx="741" cy="346" r="3.2" fill="none" stroke="#000" stroke-width="1.6"/>
<line x1="656.0" y1="395.0" x2="741.0" y2="347.0" stroke="#000" stroke-width="1.3" stroke-linecap="round"/>
<line x1="717.0" y1="429.5" x2="739.6" y2="416.2" stroke="#000" stroke-width="1.3" stroke-linecap="round"/>
<line x1="662.0" y1="343.0" x2="674.0" y2="339.0" stroke="#000" stroke-width="1.1" stroke-linecap="round"/>
<g transform="translate(638.0,385.6) rotate(-29.7)">
<path d="M0,-4.2 L12.1,-4.2 A3.4,4.2 0 0 1 12.1,4.2 L0,4.2 A3.4,4.2 0 0 1 0,-4.2 Z" fill="#000" stroke="#000" stroke-width="1.3"/>
<ellipse cx="2.9" cy="-0.8" rx="1.5" ry="1.9" fill="#fff"/>
<ellipse cx="7.7" cy="-0.8" rx="1.5" ry="1.9" fill="#fff"/>
<ellipse cx="0" cy="0" rx="3.4" ry="4.2" fill="#fff" stroke="#000" stroke-width="1.3"/>
<ellipse cx="0" cy="0" rx="1.5" ry="2.1" fill="#000"/>
</g>
<g transform="translate(652.6,396.0) rotate(-26.7)">
<path d="M0,-4.2 L14.4,-4.2 A3.4,4.2 0 0 1 14.4,4.2 L0,4.2 A3.4,4.2 0 0 1 0,-4.2 Z" fill="#000" stroke="#000" stroke-width="1.3"/>
<ellipse cx="3.5" cy="-0.8" rx="1.5" ry="1.9" fill="#fff"/>
<ellipse cx="9.2" cy="-0.8" rx="1.5" ry="1.9" fill="#fff"/>
<ellipse cx="0" cy="0" rx="3.4" ry="4.2" fill="#fff" stroke="#000" stroke-width="1.3"/>
</g>
<g transform="translate(683.6,446.6) rotate(-25.0)">
<path d="M0,-4.6 L28.4,-4.6 A3.7,4.6 0 0 1 28.4,4.6 L0,4.6 A3.7,4.6 0 0 1 0,-4.6 Z" fill="#000" stroke="#000" stroke-width="1.3"/>
<ellipse cx="4.9" cy="-0.9" rx="1.6" ry="2.1" fill="#fff"/>
<ellipse cx="13.0" cy="-0.9" rx="1.6" ry="2.1" fill="#fff"/>
<ellipse cx="21.1" cy="-0.9" rx="1.6" ry="2.1" fill="#fff"/>
<ellipse cx="0" cy="0" rx="3.7" ry="4.6" fill="#fff" stroke="#000" stroke-width="1.3"/>
</g>
<g transform="translate(756.7,289.6) rotate(-30.0)">
<path d="M0.0,-12.0 L2.5,-12.0 A8.0,12.0 0 0 1 2.5,12.0 L0.0,12.0 A8.0,12.0 0 0 1 0.0,-12.0 Z" fill="#fff" stroke="#000" stroke-width="1.3" stroke-linejoin="round"/>
<ellipse cx="0.0" cy="0.0" rx="8.0" ry="12.0" fill="#fff" stroke="#000" stroke-width="1.3"/>
<ellipse cx="0.0" cy="0.0" rx="3.2" ry="5.0" fill="none" stroke="#000" stroke-width="1.3"/>
</g>
<g transform="translate(772.0,278.0) rotate(-30.0)">
<path d="M0.0,-10.8 L18.0,-10.8 A6.8,10.8 0 0 1 18.0,10.8 L0.0,10.8 A6.8,10.8 0 0 1 0.0,-10.8 Z" fill="#fff" stroke="#000" stroke-width="1.2" stroke-linejoin="round"/>
<line x1="6.3" y1="3.3" x2="24.3" y2="3.2" stroke="#000" stroke-width="1.8" stroke-linecap="round"/>
<line x1="3.9" y1="8.6" x2="21.9" y2="8.3" stroke="#000" stroke-width="1.8" stroke-linecap="round"/>
<line x1="0.0" y1="10.6" x2="18.0" y2="10.3" stroke="#000" stroke-width="1.8" stroke-linecap="round"/>
<line x1="-0.0" y1="-10.6" x2="18.0" y2="-10.3" stroke="#000" stroke-width="1.8" stroke-linecap="round"/>
<line x1="3.9" y1="-8.6" x2="21.9" y2="-8.3" stroke="#000" stroke-width="1.8" stroke-linecap="round"/>
<line x1="6.3" y1="-3.3" x2="24.3" y2="-3.2" stroke="#000" stroke-width="1.8" stroke-linecap="round"/>
<path d="M5.8,0.0 L6.7,1.7 L6.5,3.3 L5.2,4.2 L4.7,5.5 L4.8,7.6 L4.0,8.7 L2.7,8.3 L1.8,8.8 L1.1,10.7 L0.0,10.8 L-0.9,9.2 L-1.8,8.8 L-3.1,9.6 L-4.0,8.7 L-4.1,6.6 L-4.7,5.5 L-6.1,4.9 L-6.5,3.3 L-5.8,1.5 L-5.8,0.0 L-6.7,-1.7 L-6.5,-3.3 L-5.2,-4.2 L-4.7,-5.5 L-4.8,-7.6 L-4.0,-8.7 L-2.7,-8.3 L-1.8,-8.8 L-1.1,-10.7 L-0.0,-10.8 L0.9,-9.2 L1.8,-8.8 L3.1,-9.6 L4.0,-8.7 L4.1,-6.6 L4.7,-5.5 L6.1,-4.9 L6.5,-3.3 L5.8,-1.5 Z" fill="#fff" stroke="#000" stroke-width="1.5" stroke-linejoin="round" stroke-linecap="round"/>
<ellipse cx="0.0" cy="0.0" rx="3.4" ry="5.9" fill="none" stroke="#000" stroke-width="1.3"/>
<line x1="9.0" y1="-10.8" x2="9.0" y2="10.8" stroke="#000" stroke-width="1.0" stroke-linecap="round"/>
</g>
<g transform="translate(804.0,260.7) rotate(-30.0)">
<path d="M29.4,0.0 L32.4,2.0 L32.3,4.1 L29.0,4.9 L28.7,6.4 L31.0,9.9 L30.4,11.7 L27.2,10.8 L26.5,12.1 L28.0,16.6 L27.0,18.0 L24.1,15.4 L23.2,16.3 L23.6,21.3 L22.3,22.1 L20.2,18.2 L19.2,18.5 L18.4,23.4 L17.0,23.5 L15.9,18.7 L14.8,18.5 L13.0,22.7 L11.7,22.1 L11.8,17.0 L10.8,16.3 L8.1,19.3 L7.0,18.0 L8.2,13.3 L7.5,12.1 L4.3,13.5 L3.6,11.8 L5.8,7.9 L5.3,6.4 L2.0,6.1 L1.7,4.1 L4.6,1.6 L4.6,0.0 L1.6,-2.0 L1.7,-4.1 L5.0,-4.9 L5.3,-6.4 L3.0,-9.9 L3.6,-11.8 L6.8,-10.8 L7.5,-12.1 L6.0,-16.6 L7.0,-18.0 L9.9,-15.4 L10.8,-16.3 L10.4,-21.3 L11.7,-22.1 L13.8,-18.2 L14.8,-18.5 L15.6,-23.4 L17.0,-23.5 L18.1,-18.7 L19.2,-18.5 L21.0,-22.7 L22.3,-22.1 L22.2,-17.0 L23.2,-16.3 L25.9,-19.3 L27.0,-18.0 L25.8,-13.3 L26.5,-12.1 L29.7,-13.5 L30.4,-11.7 L28.2,-7.9 L28.7,-6.4 L32.0,-6.1 L32.3,-4.1 L29.4,-1.6 Z" fill="#fff" stroke="#000" stroke-width="1.3" stroke-linejoin="round" stroke-linecap="round"/>
<path d="M0.0,-21.2 L17.0,-21.2 A14.0,21.2 0 0 1 17.0,21.2 L0.0,21.2 A14.0,21.2 0 0 1 0.0,-21.2 Z" fill="#fff" stroke="#000" stroke-width="1.3" stroke-linejoin="round"/>
<line x1="15.3" y1="4.1" x2="32.3" y2="4.1" stroke="#000" stroke-width="1.7" stroke-linecap="round"/>
<line x1="12.7" y1="1.7" x2="29.7" y2="1.7" stroke="#000" stroke-width="1.0" stroke-linecap="round"/>
<line x1="13.4" y1="11.7" x2="30.4" y2="11.7" stroke="#000" stroke-width="1.7" stroke-linecap="round"/>
<line x1="11.5" y1="8.1" x2="28.5" y2="8.1" stroke="#000" stroke-width="1.0" stroke-linecap="round"/>
<line x1="10.0" y1="18.0" x2="27.0" y2="18.0" stroke="#000" stroke-width="1.7" stroke-linecap="round"/>
<line x1="9.0" y1="13.6" x2="26.0" y2="13.6" stroke="#000" stroke-width="1.0" stroke-linecap="round"/>
<line x1="5.3" y1="22.1" x2="22.3" y2="22.1" stroke="#000" stroke-width="1.7" stroke-linecap="round"/>
<line x1="5.4" y1="17.5" x2="22.4" y2="17.5" stroke="#000" stroke-width="1.0" stroke-linecap="round"/>
<line x1="0.0" y1="23.5" x2="17.0" y2="23.5" stroke="#000" stroke-width="1.7" stroke-linecap="round"/>
<line x1="1.1" y1="19.2" x2="18.1" y2="19.2" stroke="#000" stroke-width="1.0" stroke-linecap="round"/>
<line x1="-0.0" y1="-23.5" x2="17.0" y2="-23.5" stroke="#000" stroke-width="1.7" stroke-linecap="round"/>
<line x1="-1.1" y1="-19.2" x2="15.9" y2="-19.2" stroke="#000" stroke-width="1.0" stroke-linecap="round"/>
<line x1="5.3" y1="-22.1" x2="22.3" y2="-22.1" stroke="#000" stroke-width="1.7" stroke-linecap="round"/>
<line x1="3.3" y1="-18.6" x2="20.3" y2="-18.6" stroke="#000" stroke-width="1.0" stroke-linecap="round"/>
<line x1="10.0" y1="-18.0" x2="27.0" y2="-18.0" stroke="#000" stroke-width="1.7" stroke-linecap="round"/>
<line x1="7.3" y1="-15.8" x2="24.3" y2="-15.8" stroke="#000" stroke-width="1.0" stroke-linecap="round"/>
<line x1="13.4" y1="-11.7" x2="30.4" y2="-11.7" stroke="#000" stroke-width="1.7" stroke-linecap="round"/>
<line x1="10.4" y1="-11.1" x2="27.4" y2="-11.1" stroke="#000" stroke-width="1.0" stroke-linecap="round"/>
<line x1="15.3" y1="-4.1" x2="32.3" y2="-4.1" stroke="#000" stroke-width="1.7" stroke-linecap="round"/>
<line x1="12.3" y1="-5.0" x2="29.3" y2="-5.0" stroke="#000" stroke-width="1.0" stroke-linecap="round"/>
<path d="M12.4,0.0 L15.4,2.0 L15.3,4.1 L12.0,4.9 L11.7,6.4 L14.0,9.9 L13.4,11.7 L10.2,10.8 L9.5,12.1 L11.0,16.6 L10.0,18.0 L7.1,15.4 L6.2,16.3 L6.6,21.3 L5.3,22.1 L3.2,18.2 L2.2,18.5 L1.4,23.4 L0.0,23.5 L-1.1,18.7 L-2.2,18.5 L-4.0,22.7 L-5.3,22.1 L-5.2,17.0 L-6.2,16.3 L-8.9,19.3 L-10.0,18.0 L-8.8,13.3 L-9.5,12.1 L-12.7,13.5 L-13.4,11.8 L-11.2,7.9 L-11.7,6.4 L-15.0,6.1 L-15.3,4.1 L-12.4,1.6 L-12.4,0.0 L-15.4,-2.0 L-15.3,-4.1 L-12.0,-4.9 L-11.7,-6.4 L-14.0,-9.9 L-13.4,-11.8 L-10.2,-10.8 L-9.5,-12.1 L-11.0,-16.6 L-10.0,-18.0 L-7.1,-15.4 L-6.2,-16.3 L-6.6,-21.3 L-5.3,-22.1 L-3.2,-18.2 L-2.2,-18.5 L-1.4,-23.4 L-0.0,-23.5 L1.1,-18.7 L2.2,-18.5 L4.0,-22.7 L5.3,-22.1 L5.2,-17.0 L6.2,-16.3 L8.9,-19.3 L10.0,-18.0 L8.8,-13.3 L9.5,-12.1 L12.7,-13.5 L13.4,-11.7 L11.2,-7.9 L11.7,-6.4 L15.0,-6.1 L15.3,-4.1 L12.4,-1.6 Z" fill="#fff" stroke="#000" stroke-width="1.5" stroke-linejoin="round" stroke-linecap="round"/>
<ellipse cx="0.0" cy="0.0" rx="10.2" ry="16.4" fill="none" stroke="#000" stroke-width="1.5"/>
<ellipse cx="0.0" cy="0.0" rx="9.3" ry="15.0" fill="none" stroke="#000" stroke-width="1.0"/>
<ellipse cx="0.0" cy="0.0" rx="7.0" ry="11.8" fill="none" stroke="#000" stroke-width="1.4"/>
</g>
<path d="M861.7,206.7 L877.3,216.8 L912.0,290.5 L898.5,305.0 L839.4,273.7 L829.3,239.0 Z" fill="#fff" stroke="#000" stroke-width="1.3" stroke-linejoin="round" stroke-linecap="round"/>
<line x1="877.3" y1="216.8" x2="874.0" y2="219.0" stroke="#000" stroke-width="1.1" stroke-linecap="round"/>
<line x1="874.0" y1="219.0" x2="908.0" y2="293.0" stroke="#000" stroke-width="1.1" stroke-linecap="round"/>
<line x1="908.0" y1="293.0" x2="898.5" y2="305.0" stroke="#000" stroke-width="1.1" stroke-linecap="round"/>
<g transform="translate(867.3,226.8) rotate(-30.0)">
<ellipse cx="0.0" cy="0.0" rx="4.0" ry="6.0" fill="none" stroke="#000" stroke-width="1.3"/>
</g>
<g transform="translate(845.0,261.5) rotate(-30.0)">
<ellipse cx="0.0" cy="0.0" rx="4.0" ry="6.0" fill="none" stroke="#000" stroke-width="1.3"/>
</g>
<g transform="translate(866.2,257.0) rotate(-30.0)">
<ellipse cx="0.0" cy="0.0" rx="9.5" ry="14.0" fill="none" stroke="#000" stroke-width="1.3"/>
</g>
<g transform="translate(891.8,287.0) rotate(-30.0)">
<ellipse cx="0.0" cy="0.0" rx="4.0" ry="6.0" fill="none" stroke="#000" stroke-width="1.3"/>
</g>
<g transform="translate(804.0,260.7) rotate(-30.0)">
<path d="M29.4,0.0 L32.4,2.0 L32.3,4.1 L29.0,4.9 L28.7,6.4 L31.0,9.9 L30.4,11.7 L27.2,10.8 L26.5,12.1 L28.0,16.6 L27.0,18.0 L24.1,15.4 L23.2,16.3 L23.6,21.3 L22.3,22.1 L20.2,18.2 L19.2,18.5 L18.4,23.4 L17.0,23.5 L15.9,18.7 L14.8,18.5 L13.0,22.7 L11.7,22.1 L11.8,17.0 L10.8,16.3 L8.1,19.3 L7.0,18.0 L8.2,13.3 L7.5,12.1 L4.3,13.5 L3.6,11.8 L5.8,7.9 L5.3,6.4 L2.0,6.1 L1.7,4.1 L4.6,1.6 L4.6,0.0 L1.6,-2.0 L1.7,-4.1 L5.0,-4.9 L5.3,-6.4 L3.0,-9.9 L3.6,-11.8 L6.8,-10.8 L7.5,-12.1 L6.0,-16.6 L7.0,-18.0 L9.9,-15.4 L10.8,-16.3 L10.4,-21.3 L11.7,-22.1 L13.8,-18.2 L14.8,-18.5 L15.6,-23.4 L17.0,-23.5 L18.1,-18.7 L19.2,-18.5 L21.0,-22.7 L22.3,-22.1 L22.2,-17.0 L23.2,-16.3 L25.9,-19.3 L27.0,-18.0 L25.8,-13.3 L26.5,-12.1 L29.7,-13.5 L30.4,-11.7 L28.2,-7.9 L28.7,-6.4 L32.0,-6.1 L32.3,-4.1 L29.4,-1.6 Z" fill="#fff" stroke="#000" stroke-width="1.3" stroke-linejoin="round" stroke-linecap="round"/>
<path d="M0.0,-21.2 L17.0,-21.2 A14.0,21.2 0 0 1 17.0,21.2 L0.0,21.2 A14.0,21.2 0 0 1 0.0,-21.2 Z" fill="#fff" stroke="#000" stroke-width="1.3" stroke-linejoin="round"/>
<line x1="15.3" y1="4.1" x2="32.3" y2="4.1" stroke="#000" stroke-width="1.7" stroke-linecap="round"/>
<line x1="12.7" y1="1.7" x2="29.7" y2="1.7" stroke="#000" stroke-width="1.0" stroke-linecap="round"/>
<line x1="13.4" y1="11.7" x2="30.4" y2="11.7" stroke="#000" stroke-width="1.7" stroke-linecap="round"/>
<line x1="11.5" y1="8.1" x2="28.5" y2="8.1" stroke="#000" stroke-width="1.0" stroke-linecap="round"/>
<line x1="10.0" y1="18.0" x2="27.0" y2="18.0" stroke="#000" stroke-width="1.7" stroke-linecap="round"/>
<line x1="9.0" y1="13.6" x2="26.0" y2="13.6" stroke="#000" stroke-width="1.0" stroke-linecap="round"/>
<line x1="5.3" y1="22.1" x2="22.3" y2="22.1" stroke="#000" stroke-width="1.7" stroke-linecap="round"/>
<line x1="5.4" y1="17.5" x2="22.4" y2="17.5" stroke="#000" stroke-width="1.0" stroke-linecap="round"/>
<line x1="0.0" y1="23.5" x2="17.0" y2="23.5" stroke="#000" stroke-width="1.7" stroke-linecap="round"/>
<line x1="1.1" y1="19.2" x2="18.1" y2="19.2" stroke="#000" stroke-width="1.0" stroke-linecap="round"/>
<line x1="-0.0" y1="-23.5" x2="17.0" y2="-23.5" stroke="#000" stroke-width="1.7" stroke-linecap="round"/>
<line x1="-1.1" y1="-19.2" x2="15.9" y2="-19.2" stroke="#000" stroke-width="1.0" stroke-linecap="round"/>
<line x1="5.3" y1="-22.1" x2="22.3" y2="-22.1" stroke="#000" stroke-width="1.7" stroke-linecap="round"/>
<line x1="3.3" y1="-18.6" x2="20.3" y2="-18.6" stroke="#000" stroke-width="1.0" stroke-linecap="round"/>
<line x1="10.0" y1="-18.0" x2="27.0" y2="-18.0" stroke="#000" stroke-width="1.7" stroke-linecap="round"/>
<line x1="7.3" y1="-15.8" x2="24.3" y2="-15.8" stroke="#000" stroke-width="1.0" stroke-linecap="round"/>
<line x1="13.4" y1="-11.7" x2="30.4" y2="-11.7" stroke="#000" stroke-width="1.7" stroke-linecap="round"/>
<line x1="10.4" y1="-11.1" x2="27.4" y2="-11.1" stroke="#000" stroke-width="1.0" stroke-linecap="round"/>
<line x1="15.3" y1="-4.1" x2="32.3" y2="-4.1" stroke="#000" stroke-width="1.7" stroke-linecap="round"/>
<line x1="12.3" y1="-5.0" x2="29.3" y2="-5.0" stroke="#000" stroke-width="1.0" stroke-linecap="round"/>
<path d="M12.4,0.0 L15.4,2.0 L15.3,4.1 L12.0,4.9 L11.7,6.4 L14.0,9.9 L13.4,11.7 L10.2,10.8 L9.5,12.1 L11.0,16.6 L10.0,18.0 L7.1,15.4 L6.2,16.3 L6.6,21.3 L5.3,22.1 L3.2,18.2 L2.2,18.5 L1.4,23.4 L0.0,23.5 L-1.1,18.7 L-2.2,18.5 L-4.0,22.7 L-5.3,22.1 L-5.2,17.0 L-6.2,16.3 L-8.9,19.3 L-10.0,18.0 L-8.8,13.3 L-9.5,12.1 L-12.7,13.5 L-13.4,11.8 L-11.2,7.9 L-11.7,6.4 L-15.0,6.1 L-15.3,4.1 L-12.4,1.6 L-12.4,0.0 L-15.4,-2.0 L-15.3,-4.1 L-12.0,-4.9 L-11.7,-6.4 L-14.0,-9.9 L-13.4,-11.8 L-10.2,-10.8 L-9.5,-12.1 L-11.0,-16.6 L-10.0,-18.0 L-7.1,-15.4 L-6.2,-16.3 L-6.6,-21.3 L-5.3,-22.1 L-3.2,-18.2 L-2.2,-18.5 L-1.4,-23.4 L-0.0,-23.5 L1.1,-18.7 L2.2,-18.5 L4.0,-22.7 L5.3,-22.1 L5.2,-17.0 L6.2,-16.3 L8.9,-19.3 L10.0,-18.0 L8.8,-13.3 L9.5,-12.1 L12.7,-13.5 L13.4,-11.7 L11.2,-7.9 L11.7,-6.4 L15.0,-6.1 L15.3,-4.1 L12.4,-1.6 Z" fill="#fff" stroke="#000" stroke-width="1.5" stroke-linejoin="round" stroke-linecap="round"/>
<ellipse cx="0.0" cy="0.0" rx="10.2" ry="16.4" fill="none" stroke="#000" stroke-width="1.5"/>
<ellipse cx="0.0" cy="0.0" rx="9.3" ry="15.0" fill="none" stroke="#000" stroke-width="1.0"/>
<ellipse cx="0.0" cy="0.0" rx="7.0" ry="11.8" fill="none" stroke="#000" stroke-width="1.4"/>
</g>
<g transform="translate(905.5,232.8) rotate(-30.0)">
<path d="M0.0,-9.3 L2.0,-9.3 A6.5,9.3 0 0 1 2.0,9.3 L0.0,9.3 A6.5,9.3 0 0 1 0.0,-9.3 Z" fill="#fff" stroke="#000" stroke-width="1.3" stroke-linejoin="round"/>
<ellipse cx="0.0" cy="0.0" rx="6.5" ry="9.3" fill="#fff" stroke="#000" stroke-width="1.3"/>
<ellipse cx="0.0" cy="0.0" rx="5.2" ry="7.4" fill="none" stroke="#000" stroke-width="2.2"/>
<ellipse cx="0.0" cy="0.0" rx="3.2" ry="5.1" fill="none" stroke="#000" stroke-width="1.3"/>
</g>
<g transform="translate(931.0,218.0) rotate(-30.0)">
<path d="M14.1,0.0 L16.4,1.6 L16.2,3.2 L13.6,3.6 L13.2,4.7 L14.5,7.6 L13.7,8.8 L11.3,7.4 L10.6,8.1 L10.6,11.5 L9.5,12.1 L7.9,9.3 L7.0,9.4 L5.8,12.4 L4.5,12.1 L4.3,8.7 L3.4,8.1 L1.2,9.9 L0.3,8.8 L1.3,5.7 L0.8,4.7 L-1.8,4.8 L-2.2,3.2 L-0.1,1.2 L-0.1,0.0 L-2.4,-1.6 L-2.2,-3.2 L0.4,-3.6 L0.8,-4.7 L-0.5,-7.6 L0.3,-8.8 L2.7,-7.4 L3.4,-8.1 L3.4,-11.5 L4.5,-12.1 L6.1,-9.3 L7.0,-9.4 L8.2,-12.4 L9.5,-12.1 L9.7,-8.7 L10.6,-8.1 L12.8,-9.9 L13.7,-8.8 L12.7,-5.7 L13.2,-4.7 L15.8,-4.8 L16.2,-3.2 L14.1,-1.2 Z" fill="#fff" stroke="#000" stroke-width="1.4" stroke-linejoin="round" stroke-linecap="round"/>
<path d="M0.0,-11.0 L7.0,-11.0 A8.3,11.0 0 0 1 7.0,11.0 L0.0,11.0 A8.3,11.0 0 0 1 0.0,-11.0 Z" fill="#fff" stroke="#000" stroke-width="1.3" stroke-linejoin="round"/>
<line x1="8.7" y1="3.1" x2="15.7" y2="3.1" stroke="#000" stroke-width="2.4" stroke-linecap="round"/>
<line x1="6.4" y1="8.5" x2="13.4" y2="8.5" stroke="#000" stroke-width="2.4" stroke-linecap="round"/>
<line x1="2.3" y1="11.6" x2="9.3" y2="11.6" stroke="#000" stroke-width="2.4" stroke-linecap="round"/>
<line x1="-2.3" y1="11.6" x2="4.7" y2="11.6" stroke="#000" stroke-width="2.4" stroke-linecap="round"/>
<line x1="-2.3" y1="-11.6" x2="4.7" y2="-11.6" stroke="#000" stroke-width="2.4" stroke-linecap="round"/>
<line x1="2.3" y1="-11.6" x2="9.3" y2="-11.6" stroke="#000" stroke-width="2.4" stroke-linecap="round"/>
<line x1="6.4" y1="-8.5" x2="13.4" y2="-8.5" stroke="#000" stroke-width="2.4" stroke-linecap="round"/>
<line x1="8.7" y1="-3.1" x2="15.7" y2="-3.1" stroke="#000" stroke-width="2.4" stroke-linecap="round"/>
<path d="M7.1,0.0 L9.4,1.6 L9.2,3.2 L6.6,3.6 L6.2,4.7 L7.5,7.6 L6.7,8.8 L4.3,7.4 L3.6,8.1 L3.6,11.5 L2.5,12.1 L0.9,9.3 L0.0,9.4 L-1.2,12.4 L-2.5,12.1 L-2.7,8.7 L-3.6,8.1 L-5.8,9.9 L-6.7,8.8 L-5.7,5.7 L-6.2,4.7 L-8.8,4.8 L-9.2,3.2 L-7.1,1.2 L-7.1,0.0 L-9.4,-1.6 L-9.2,-3.2 L-6.6,-3.6 L-6.2,-4.7 L-7.5,-7.6 L-6.7,-8.8 L-4.3,-7.4 L-3.6,-8.1 L-3.6,-11.5 L-2.5,-12.1 L-0.9,-9.3 L-0.0,-9.4 L1.2,-12.4 L2.5,-12.1 L2.7,-8.7 L3.6,-8.1 L5.8,-9.9 L6.7,-8.8 L5.7,-5.7 L6.2,-4.7 L8.8,-4.8 L9.2,-3.2 L7.1,-1.2 Z" fill="#fff" stroke="#000" stroke-width="1.5" stroke-linejoin="round" stroke-linecap="round"/>
<ellipse cx="0.0" cy="0.0" rx="4.0" ry="5.5" fill="none" stroke="#000" stroke-width="2.2"/>
<ellipse cx="0.0" cy="0.0" rx="1.5" ry="2.0" fill="#000" stroke="#000" stroke-width="1.5"/>
</g>
<g transform="translate(970.0,195.0) rotate(-30.0)">
<path d="M0.0,-12.5 L9.0,-12.5 A8.5,12.5 0 0 1 9.0,12.5 L0.0,12.5 A8.5,12.5 0 0 1 0.0,-12.5 Z" fill="#fff" stroke="#000" stroke-width="1.6" stroke-linejoin="round"/>
<ellipse cx="0.0" cy="0.0" rx="8.5" ry="12.5" fill="#fff" stroke="#000" stroke-width="1.6"/>
<line x1="4.0" y1="-12.3" x2="13.0" y2="-12.3" stroke="#000" stroke-width="1.2" stroke-linecap="round"/>
<line x1="-6.0" y1="-9.0" x2="3.0" y2="-9.0" stroke="#000" stroke-width="1.0" stroke-linecap="round"/>
<ellipse cx="0.0" cy="0.0" rx="5.0" ry="7.5" fill="none" stroke="#000" stroke-width="1.4"/>
<ellipse cx="1.0" cy="0.0" rx="4.0" ry="6.2" fill="none" stroke="#000" stroke-width="2.0"/>
</g>
<line x1="991.0" y1="180.0" x2="985.0" y2="188.0" stroke="#000" stroke-width="1.2" stroke-linecap="round"/>
<circle cx="938.8" cy="169.3" r="12" fill="#fff" stroke="#000" stroke-width="1.6"/>
<text x="938.8" y="174.3" font-size="14" font-weight="bold" text-anchor="middle" textLength="14" lengthAdjust="spacingAndGlyphs">10</text>
<line x1="950.4" y1="174.7" x2="959.3" y2="177.5" stroke="#000" stroke-width="1.3"/>
<path d="M965.0,179.3 L958.6,179.7 L960.0,175.3 Z" fill="#000"/>
<circle cx="855.0" cy="174.7" r="12" fill="#fff" stroke="#000" stroke-width="1.6"/>
<text x="855.0" y="179.7" font-size="14" font-weight="bold" text-anchor="middle" textLength="14" lengthAdjust="spacingAndGlyphs">16</text>
<line x1="856.0" y1="186.5" x2="858.0" y2="198.1" stroke="#000" stroke-width="1.3"/>
<path d="M859.0,204.0 L855.7,198.5 L860.3,197.7 Z" fill="#000"/>
<circle cx="801.0" cy="189.6" r="12" fill="#fff" stroke="#000" stroke-width="1.6"/>
<text x="801.0" y="194.6" font-size="14" font-weight="bold" text-anchor="middle" textLength="14" lengthAdjust="spacingAndGlyphs">18</text>
<line x1="802.0" y1="201.4" x2="802.8" y2="222.0" stroke="#000" stroke-width="1.3"/>
<path d="M803.0,228.0 L800.5,222.1 L805.1,221.9 Z" fill="#000"/>
<circle cx="762.2" cy="212.2" r="12" fill="#fff" stroke="#000" stroke-width="1.6"/>
<text x="762.2" y="217.2" font-size="14" font-weight="bold" text-anchor="middle" textLength="14" lengthAdjust="spacingAndGlyphs">19</text>
<line x1="764.5" y1="224.0" x2="769.8" y2="249.1" stroke="#000" stroke-width="1.3"/>
<path d="M771.0,255.0 L767.5,249.6 L772.0,248.7 Z" fill="#000"/>
<circle cx="729.5" cy="233.5" r="12" fill="#fff" stroke="#000" stroke-width="1.6"/>
<text x="729.5" y="238.5" font-size="14" font-weight="bold" text-anchor="middle" textLength="14" lengthAdjust="spacingAndGlyphs">20</text>
<line x1="735.0" y1="244.5" x2="745.1" y2="262.7" stroke="#000" stroke-width="1.3"/>
<path d="M748.0,268.0 L743.1,263.9 L747.1,261.6 Z" fill="#000"/>
<circle cx="930.2" cy="267.5" r="12" fill="#fff" stroke="#000" stroke-width="1.6"/>
<text x="930.2" y="272.5" font-size="14" font-weight="bold" text-anchor="middle" textLength="14" lengthAdjust="spacingAndGlyphs">12</text>
<line x1="922.0" y1="258.0" x2="916.0" y2="251.4" stroke="#000" stroke-width="1.3"/>
<path d="M912.0,247.0 L917.7,249.9 L914.3,253.0 Z" fill="#000"/>
<circle cx="955.0" cy="254.5" r="12" fill="#fff" stroke="#000" stroke-width="1.6"/>
<text x="955.0" y="259.5" font-size="14" font-weight="bold" text-anchor="middle" textLength="14" lengthAdjust="spacingAndGlyphs">11</text>
<line x1="948.0" y1="244.0" x2="944.0" y2="239.5" stroke="#000" stroke-width="1.3"/>
<path d="M940.0,235.0 L945.7,238.0 L942.3,241.0 Z" fill="#000"/>
<circle cx="602.0" cy="409.0" r="11.5" fill="#fff" stroke="#000" stroke-width="1.5"/>
<text x="602.0" y="414.7" font-size="14.5" font-weight="normal" text-anchor="middle" textLength="14" lengthAdjust="spacingAndGlyphs">14</text>
<line x1="613.0" y1="403.0" x2="625.6" y2="396.7" stroke="#000" stroke-width="1.3"/>
<path d="M631.0,394.0 L626.7,398.7 L624.6,394.6 Z" fill="#000"/>
<circle cx="632.2" cy="438.3" r="11.5" fill="#fff" stroke="#000" stroke-width="1.5"/>
<text x="632.2" y="444.0" font-size="14.5" font-weight="normal" text-anchor="middle" textLength="14" lengthAdjust="spacingAndGlyphs">17</text>
<line x1="639.0" y1="427.0" x2="649.4" y2="412.8" stroke="#000" stroke-width="1.3"/>
<path d="M653.0,408.0 L651.3,414.2 L647.6,411.5 Z" fill="#000"/>
<circle cx="801.3" cy="451.3" r="11.5" fill="#fff" stroke="#000" stroke-width="1.5"/>
<text x="801.3" y="457.0" font-size="14.5" font-weight="normal" text-anchor="middle" textLength="14" lengthAdjust="spacingAndGlyphs">13</text>
<line x1="794.0" y1="440.0" x2="777.0" y2="421.4" stroke="#000" stroke-width="1.3"/>
<path d="M773.0,417.0 L778.7,419.9 L775.3,423.0 Z" fill="#000"/>
<circle cx="741.6" cy="485.0" r="11.5" fill="#fff" stroke="#000" stroke-width="1.5"/>
<text x="741.6" y="490.7" font-size="14.5" font-weight="normal" text-anchor="middle" textLength="14" lengthAdjust="spacingAndGlyphs">21</text>
<circle cx="756.0" cy="500.2" r="11.5" fill="#fff" stroke="#000" stroke-width="1.5"/>
<text x="756.0" y="505.9" font-size="14.5" font-weight="normal" text-anchor="middle" textLength="14" lengthAdjust="spacingAndGlyphs">15</text>
<line x1="735.0" y1="473.0" x2="716.3" y2="455.1" stroke="#000" stroke-width="1.3"/>
<path d="M712.0,451.0 L717.9,453.5 L714.7,456.8 Z" fill="#000"/>
<g transform="translate(1107.9,361.4) rotate(-29.9)">
<path d="M0.0,-79.0 L4.0,-79.0 A44.0,79.0 0 0 1 4.0,79.0 L0.0,79.0 A44.0,79.0 0 0 1 0.0,-79.0 Z" fill="#fff" stroke="#000" stroke-width="1.8" stroke-linejoin="round"/>
<ellipse cx="0.0" cy="0.0" rx="44.0" ry="79.0" fill="#fff" stroke="#000" stroke-width="1.8"/>
<ellipse cx="0.0" cy="0.0" rx="39.0" ry="71.0" fill="none" stroke="#000" stroke-width="1.1"/>
<ellipse cx="3.0" cy="0.0" rx="33.0" ry="60.0" fill="none" stroke="#000" stroke-width="1.6"/>
<ellipse cx="3.0" cy="0.0" rx="30.5" ry="56.0" fill="none" stroke="#000" stroke-width="1.6"/>
</g>
<path d="M1077.0,297.0 A2.8,2.8 0 1 0 1077.0,301.0" fill="none" stroke="#000" stroke-width="1.4" transform="rotate(0 1075.0 299.0)"/>
<path d="M1090.0,297.0 A2.8,2.8 0 1 0 1090.0,301.0" fill="none" stroke="#000" stroke-width="1.4" transform="rotate(0 1088.0 299.0)"/>
<path d="M1108.0,300.0 A2.8,2.8 0 1 0 1108.0,304.0" fill="none" stroke="#000" stroke-width="1.4" transform="rotate(0 1106.0 302.0)"/>
<path d="M1135.6,329.4 A2.8,2.8 0 1 0 1135.6,333.4" fill="none" stroke="#000" stroke-width="1.4" transform="rotate(0 1133.6 331.4)"/>
<path d="M1145.8,344.0 A2.8,2.8 0 1 0 1145.8,348.0" fill="none" stroke="#000" stroke-width="1.4" transform="rotate(0 1143.8 346.0)"/>
<path d="M1154.6,360.0 A2.8,2.8 0 1 0 1154.6,364.0" fill="none" stroke="#000" stroke-width="1.4" transform="rotate(0 1152.6 362.0)"/>
<path d="M1159.0,388.0 A2.8,2.8 0 1 0 1159.0,392.0" fill="none" stroke="#000" stroke-width="1.4" transform="rotate(0 1157.0 390.0)"/>
<path d="M1156.0,402.5 A2.8,2.8 0 1 0 1156.0,406.5" fill="none" stroke="#000" stroke-width="1.4" transform="rotate(0 1154.0 404.5)"/>
<path d="M1138.5,421.5 A2.8,2.8 0 1 0 1138.5,425.5" fill="none" stroke="#000" stroke-width="1.4" transform="rotate(0 1136.5 423.5)"/>
<path d="M1115.0,423.0 A2.8,2.8 0 1 0 1115.0,427.0" fill="none" stroke="#000" stroke-width="1.4" transform="rotate(0 1113.0 425.0)"/>
<path d="M1059.6,318.4 A2.3,2.3 0 1 0 1059.6,321.6" fill="none" stroke="#000" stroke-width="1.2" transform="rotate(180 1058.0 320.0)"/>
<path d="M1061.6,338.4 A2.3,2.3 0 1 0 1061.6,341.6" fill="none" stroke="#000" stroke-width="1.2" transform="rotate(180 1060.0 340.0)"/>
<path d="M1064.6,360.4 A2.3,2.3 0 1 0 1064.6,363.6" fill="none" stroke="#000" stroke-width="1.2" transform="rotate(180 1063.0 362.0)"/>
<g transform="translate(1106.0,362.0) rotate(-30.0)">
<ellipse cx="0.0" cy="0.0" rx="24.0" ry="45.0" fill="none" stroke="#000" stroke-width="1.5"/>
</g>
<circle cx="1097.0" cy="340.0" r="7" fill="#fff" stroke="#000" stroke-width="1.4"/>
<circle cx="1097.0" cy="340.0" r="3.8" fill="none" stroke="#000" stroke-width="1.3"/>
<circle cx="1078.0" cy="371.0" r="7" fill="#fff" stroke="#000" stroke-width="1.4"/>
<circle cx="1078.0" cy="371.0" r="3.8" fill="none" stroke="#000" stroke-width="1.3"/>
<circle cx="1121.9" cy="390.0" r="7" fill="#fff" stroke="#000" stroke-width="1.4"/>
<circle cx="1121.9" cy="390.0" r="3.8" fill="none" stroke="#000" stroke-width="1.3"/>
<circle cx="1101.4" cy="363.6" r="3.6" fill="none" stroke="#000" stroke-width="1.3"/>
<line x1="1040.0" y1="369.4" x2="1097.0" y2="344.6" stroke="#000" stroke-width="1.2" stroke-linecap="round"/>
<line x1="1081.0" y1="387.0" x2="1139.4" y2="360.6" stroke="#000" stroke-width="1.2" stroke-linecap="round"/>
<line x1="1057.5" y1="397.2" x2="1082.4" y2="385.5" stroke="#000" stroke-width="1.2" stroke-linecap="round"/>
<line x1="1109.7" y1="441.2" x2="1140.0" y2="426.0" stroke="#000" stroke-width="1.2" stroke-linecap="round"/>
<path d="M1030.8,309.0 L1045.0,312.0 L1060.0,306.0 L1075.0,300.0 L1090.0,301.0" fill="none" stroke="#000" stroke-width="1.1" stroke-linejoin="round" stroke-linecap="round"/>
<g transform="translate(967.8,443.7) rotate(-33.7)">
<path d="M0.0,-48.4 L3.0,-48.4 A30.5,48.4 0 0 1 3.0,48.4 L0.0,48.4 A30.5,48.4 0 0 1 0.0,-48.4 Z" fill="#fff" stroke="#000" stroke-width="1.9" stroke-linejoin="round"/>
<ellipse cx="0.0" cy="0.0" rx="30.5" ry="48.4" fill="#fff" stroke="#000" stroke-width="1.9"/>
<path d="M8.9,-42.1 L10.8,-41.1 L12.7,-39.9 L14.5,-38.6 L16.2,-36.9 L17.9,-35.1 L19.4,-33.1 L20.9,-30.9 L22.3,-28.6 L23.5,-26.1 L24.6,-23.4 L25.6,-20.6 L26.5,-17.7 L27.3,-14.7 L27.9,-11.6 L28.3,-8.5 L28.6,-5.3 L28.8,-2.1 L28.8,1.1 L28.7,4.4 L28.4,7.6 L28.0,10.7 L27.5,13.8 L26.8,16.8 L25.9,19.8 L24.9,22.6 L23.9,25.3 L22.6,27.9 L21.3,30.3 L19.9,32.5 L18.3,34.6 L16.7,36.4 L15.0,38.1 L13.2,39.6 L11.4,40.8 L9.5,41.8 L7.6,42.6 L5.6,43.2 L3.6,43.5 L1.6,43.6 L-0.3,43.4" fill="none" stroke="#000" stroke-width="1.5" stroke-linejoin="round" stroke-linecap="round"/>
</g>
<path d="M939.0,410.0 L948.0,405.0 L956.0,406.0 L959.0,438.0 L940.0,442.0 L936.0,432.0 Z" fill="#fff" stroke="#000" stroke-width="1.8" stroke-linejoin="round" stroke-linecap="round"/>
<path d="M961.0,405.0 L968.0,404.0 L972.0,437.0 L962.0,440.0 Z" fill="#fff" stroke="#000" stroke-width="1.6" stroke-linejoin="round" stroke-linecap="round"/>
<circle cx="966.5" cy="415.3" r="2.2" fill="none" stroke="#000" stroke-width="1.3"/>
<path d="M976.0,419.0 L990.0,437.0 L997.0,466.0 L985.0,470.0 L977.0,448.0 Z" fill="#fff" stroke="#000" stroke-width="1.8" stroke-linejoin="round" stroke-linecap="round"/>
<path d="M945.0,457.0 L975.0,453.0 L986.0,474.0 L980.0,481.0 L961.0,480.0 L948.0,470.0 Z" fill="#fff" stroke="#000" stroke-width="1.8" stroke-linejoin="round" stroke-linecap="round"/>
<line x1="936.0" y1="448.0" x2="944.0" y2="448.0" stroke="#000" stroke-width="1.4" stroke-linecap="round"/>
<line x1="958.0" y1="442.0" x2="972.0" y2="441.0" stroke="#000" stroke-width="1.3" stroke-linecap="round"/>
<circle cx="945" cy="451" r="1.8" fill="none" stroke="#000" stroke-width="1.2"/>
<g transform="translate(1018.0,322.7) rotate(-20.0)">
<rect x="-3.5" y="-3.5" width="13" height="7" rx="3.5" fill="#fff" stroke="#000" stroke-width="1.5"/>
<ellipse cx="-1" cy="0" rx="2" ry="3" fill="#000"/>
</g>
<rect x="1042.6" y="338" width="4.2" height="24" rx="2.1" fill="#fff" stroke="#000" stroke-width="1.4"/>
<g transform="translate(1021.0,381.6) rotate(-27.0)">
<path d="M0.0,-5.8 L28.0,-5.8 A4.6,5.8 0 0 1 28.0,5.8 L0.0,5.8 A4.6,5.8 0 0 1 0.0,-5.8 Z" fill="#fff" stroke="#000" stroke-width="1.5" stroke-linejoin="round"/>
<path d="M-2.0,-6.5 L4.0,-6.5 A5.5,6.5 0 0 1 4.0,6.5 L-2.0,6.5 A5.5,6.5 0 0 1 -2.0,-6.5 Z" fill="#fff" stroke="#000" stroke-width="1.6" stroke-linejoin="round"/>
<ellipse cx="-2.0" cy="0.0" rx="5.5" ry="6.5" fill="#fff" stroke="#000" stroke-width="1.6"/>
<line x1="1.0" y1="-5.5" x2="1.0" y2="5.5" stroke="#000" stroke-width="1.1" stroke-linecap="round"/>
<line x1="2.6" y1="-5.5" x2="2.6" y2="5.5" stroke="#000" stroke-width="1.1" stroke-linecap="round"/>
<line x1="4.2" y1="-5.5" x2="4.2" y2="5.5" stroke="#000" stroke-width="1.1" stroke-linecap="round"/>
<path d="M26,-6 L31,-6 L31,6 L26,6" fill="#fff" stroke="#000" stroke-width="1.3"/>
</g>
<line x1="1012.0" y1="388.0" x2="1002.0" y2="395.0" stroke="#000" stroke-width="1.2" stroke-linecap="round"/>
<g transform="translate(1005.5,392.0) rotate(-20.0)">
<ellipse cx="0.0" cy="0.0" rx="3.0" ry="3.8" fill="none" stroke="#000" stroke-width="1.5"/>
</g>
<g transform="translate(1043.7,395.0) rotate(-29.5)">
<path d="M0,-3.8 L6.1,-3.8 A3.0,3.8 0 0 1 6.1,3.8 L0,3.8 A3.0,3.8 0 0 1 0,-3.8 Z" fill="#000" stroke="#000" stroke-width="1.3"/>
<ellipse cx="2.4" cy="-0.8" rx="1.3" ry="1.7" fill="#fff"/>
<ellipse cx="0" cy="0" rx="3.0" ry="3.8" fill="#fff" stroke="#000" stroke-width="1.3"/>
<ellipse cx="0" cy="0" rx="1.4" ry="1.9" fill="#000"/>
</g>
<g transform="translate(1058.0,405.0) rotate(-29.4)">
<path d="M0,-3.8 L9.2,-3.8 A3.0,3.8 0 0 1 9.2,3.8 L0,3.8 A3.0,3.8 0 0 1 0,-3.8 Z" fill="#000" stroke="#000" stroke-width="1.3"/>
<ellipse cx="2.2" cy="-0.8" rx="1.3" ry="1.7" fill="#fff"/>
<ellipse cx="5.9" cy="-0.8" rx="1.3" ry="1.7" fill="#fff"/>
<ellipse cx="0" cy="0" rx="3.0" ry="3.8" fill="#fff" stroke="#000" stroke-width="1.3"/>
</g>
<g transform="translate(1085.0,456.3) rotate(-31.9)">
<path d="M0,-4.3 L27.1,-4.3 A3.4,4.3 0 0 1 27.1,4.3 L0,4.3 A3.4,4.3 0 0 1 0,-4.3 Z" fill="#000" stroke="#000" stroke-width="1.3"/>
<ellipse cx="4.6" cy="-0.9" rx="1.5" ry="1.9" fill="#fff"/>
<ellipse cx="12.4" cy="-0.9" rx="1.5" ry="1.9" fill="#fff"/>
<ellipse cx="20.1" cy="-0.9" rx="1.5" ry="1.9" fill="#fff"/>
<ellipse cx="0" cy="0" rx="3.4" ry="4.3" fill="#fff" stroke="#000" stroke-width="1.3"/>
</g>
<g transform="translate(1072.6,461.8) rotate(-30.0)">
<path d="M0.0,-8.5 L2.0,-8.5 A5.5,8.5 0 0 1 2.0,8.5 L0.0,8.5 A5.5,8.5 0 0 1 0.0,-8.5 Z" fill="#fff" stroke="#000" stroke-width="1.3" stroke-linejoin="round"/>
<ellipse cx="0.0" cy="0.0" rx="5.5" ry="8.5" fill="#fff" stroke="#000" stroke-width="1.3"/>
<ellipse cx="0.0" cy="0.0" rx="1.9" ry="3.0" fill="none" stroke="#000" stroke-width="1.3"/>
</g>
<g transform="translate(1053.4,475.5) rotate(-30.0)">
<path d="M3.0,-8.5 L9.5,-4.5 L9.5,4.5 L3.0,8.5 L-3.5,4.5 L-3.5,-4.5 Z" fill="#fff" stroke="#000" stroke-width="1.6" stroke-linejoin="round" stroke-linecap="round"/>
<path d="M0.0,-8.5 L6.5,-4.5 L6.5,4.5 L0.0,8.5 L-6.5,4.5 L-6.5,-4.5 Z" fill="#fff" stroke="#000" stroke-width="2.0" stroke-linejoin="round" stroke-linecap="round"/>
<ellipse cx="0.0" cy="0.0" rx="3.5" ry="4.5" fill="none" stroke="#000" stroke-width="2.2"/>
<line x1="-6.5" y1="-4.5" x2="-2.0" y2="-2.0" stroke="#000" stroke-width="1.2" stroke-linecap="round"/>
<line x1="6.5" y1="4.5" x2="2.0" y2="2.0" stroke="#000" stroke-width="1.2" stroke-linecap="round"/>
</g>
<g transform="translate(1163.0,333.0) rotate(-30.0)">
<path d="M-8.0,-3.0 L1.0,-3.0 A2.5,3.0 0 0 1 1.0,3.0 L-8.0,3.0 A2.5,3.0 0 0 1 -8.0,-3.0 Z" fill="#fff" stroke="#000" stroke-width="1.4" stroke-linejoin="round"/>
<path d="M0.0,-5.0 L4.0,-3.0 L4.0,3.0 L0.0,5.0 L-4.0,3.0 L-4.0,-3.0 Z" fill="#fff" stroke="#000" stroke-width="1.5" stroke-linejoin="round" stroke-linecap="round"/>
</g>
<g transform="translate(1152.2,304.7) rotate(-30.0)">
<path d="M0.0,-12.5 L2.5,-12.5 A8.0,12.5 0 0 1 2.5,12.5 L0.0,12.5 A8.0,12.5 0 0 1 0.0,-12.5 Z" fill="#fff" stroke="#000" stroke-width="1.3" stroke-linejoin="round"/>
<ellipse cx="0.0" cy="0.0" rx="8.0" ry="12.5" fill="#fff" stroke="#000" stroke-width="1.3"/>
<ellipse cx="0.0" cy="0.0" rx="3.0" ry="5.0" fill="none" stroke="#000" stroke-width="1.3"/>
</g>
<g transform="translate(1171.0,293.0) rotate(-30.0)">
<path d="M0.0,-10.5 L17.0,-10.5 A6.5,10.5 0 0 1 17.0,10.5 L0.0,10.5 A6.5,10.5 0 0 1 0.0,-10.5 Z" fill="#fff" stroke="#000" stroke-width="1.2" stroke-linejoin="round"/>
<line x1="6.1" y1="3.2" x2="23.1" y2="3.1" stroke="#000" stroke-width="1.8" stroke-linecap="round"/>
<line x1="3.7" y1="8.3" x2="20.7" y2="8.1" stroke="#000" stroke-width="1.8" stroke-linecap="round"/>
<line x1="0.0" y1="10.3" x2="17.0" y2="10.0" stroke="#000" stroke-width="1.8" stroke-linecap="round"/>
<line x1="-0.0" y1="-10.3" x2="17.0" y2="-10.0" stroke="#000" stroke-width="1.8" stroke-linecap="round"/>
<line x1="3.7" y1="-8.3" x2="20.7" y2="-8.1" stroke="#000" stroke-width="1.8" stroke-linecap="round"/>
<line x1="6.1" y1="-3.2" x2="23.1" y2="-3.1" stroke="#000" stroke-width="1.8" stroke-linecap="round"/>
<path d="M5.6,0.0 L6.4,1.6 L6.2,3.2 L5.0,4.1 L4.5,5.3 L4.6,7.4 L3.8,8.5 L2.5,8.0 L1.7,8.6 L1.0,10.4 L0.0,10.5 L-0.9,8.9 L-1.7,8.6 L-3.0,9.4 L-3.8,8.5 L-4.0,6.4 L-4.5,5.3 L-5.8,4.8 L-6.2,3.2 L-5.5,1.4 L-5.6,0.0 L-6.4,-1.6 L-6.2,-3.2 L-5.0,-4.1 L-4.5,-5.3 L-4.6,-7.4 L-3.8,-8.5 L-2.5,-8.0 L-1.7,-8.6 L-1.0,-10.4 L-0.0,-10.5 L0.9,-8.9 L1.7,-8.6 L3.0,-9.4 L3.8,-8.5 L4.0,-6.4 L4.5,-5.3 L5.8,-4.8 L6.2,-3.2 L5.5,-1.4 Z" fill="#fff" stroke="#000" stroke-width="1.5" stroke-linejoin="round" stroke-linecap="round"/>
<ellipse cx="0.0" cy="0.0" rx="3.2" ry="5.8" fill="none" stroke="#000" stroke-width="1.3"/>
<line x1="8.5" y1="-10.5" x2="8.5" y2="10.5" stroke="#000" stroke-width="1.0" stroke-linecap="round"/>
</g>
<g transform="translate(1198.0,276.0) rotate(-30.0)">
<path d="M27.0,0.0 L29.9,2.0 L29.8,4.0 L26.6,4.8 L26.3,6.3 L28.6,9.7 L28.0,11.5 L24.8,10.6 L24.2,11.8 L25.6,16.3 L24.6,17.6 L21.9,15.1 L21.0,15.9 L21.3,20.8 L20.1,21.6 L18.1,17.8 L17.1,18.1 L16.3,22.9 L15.0,23.0 L14.0,18.3 L12.9,18.1 L11.1,22.2 L9.9,21.6 L9.9,16.7 L9.0,15.9 L6.4,18.8 L5.4,17.6 L6.5,13.0 L5.8,11.8 L2.7,13.2 L2.0,11.5 L4.1,7.8 L3.7,6.3 L0.5,6.0 L0.2,4.0 L3.0,1.6 L3.0,0.0 L0.1,-2.0 L0.2,-4.0 L3.4,-4.8 L3.7,-6.3 L1.4,-9.7 L2.0,-11.5 L5.2,-10.6 L5.8,-11.8 L4.4,-16.3 L5.4,-17.6 L8.1,-15.1 L9.0,-15.9 L8.7,-20.8 L9.9,-21.6 L11.9,-17.8 L12.9,-18.1 L13.7,-22.9 L15.0,-23.0 L16.0,-18.3 L17.1,-18.1 L18.9,-22.2 L20.1,-21.6 L20.1,-16.7 L21.0,-15.9 L23.6,-18.8 L24.6,-17.6 L23.5,-13.0 L24.2,-11.8 L27.3,-13.2 L28.0,-11.5 L25.9,-7.8 L26.3,-6.3 L29.5,-6.0 L29.8,-4.0 L27.0,-1.6 Z" fill="#fff" stroke="#000" stroke-width="1.3" stroke-linejoin="round" stroke-linecap="round"/>
<path d="M0.0,-20.7 L15.0,-20.7 A13.5,20.7 0 0 1 15.0,20.7 L0.0,20.7 A13.5,20.7 0 0 1 0.0,-20.7 Z" fill="#fff" stroke="#000" stroke-width="1.3" stroke-linejoin="round"/>
<line x1="14.8" y1="4.0" x2="29.8" y2="4.0" stroke="#000" stroke-width="1.7" stroke-linecap="round"/>
<line x1="12.3" y1="1.6" x2="27.3" y2="1.6" stroke="#000" stroke-width="1.0" stroke-linecap="round"/>
<line x1="13.0" y1="11.5" x2="28.0" y2="11.5" stroke="#000" stroke-width="1.7" stroke-linecap="round"/>
<line x1="11.1" y1="8.0" x2="26.1" y2="8.0" stroke="#000" stroke-width="1.0" stroke-linecap="round"/>
<line x1="9.6" y1="17.6" x2="24.6" y2="17.6" stroke="#000" stroke-width="1.7" stroke-linecap="round"/>
<line x1="8.7" y1="13.3" x2="23.7" y2="13.3" stroke="#000" stroke-width="1.0" stroke-linecap="round"/>
<line x1="5.1" y1="21.6" x2="20.1" y2="21.6" stroke="#000" stroke-width="1.7" stroke-linecap="round"/>
<line x1="5.2" y1="17.1" x2="20.2" y2="17.1" stroke="#000" stroke-width="1.0" stroke-linecap="round"/>
<line x1="0.0" y1="23.0" x2="15.0" y2="23.0" stroke="#000" stroke-width="1.7" stroke-linecap="round"/>
<line x1="1.1" y1="18.8" x2="16.1" y2="18.8" stroke="#000" stroke-width="1.0" stroke-linecap="round"/>
<line x1="-0.0" y1="-23.0" x2="15.0" y2="-23.0" stroke="#000" stroke-width="1.7" stroke-linecap="round"/>
<line x1="-1.1" y1="-18.8" x2="13.9" y2="-18.8" stroke="#000" stroke-width="1.0" stroke-linecap="round"/>
<line x1="5.1" y1="-21.6" x2="20.1" y2="-21.6" stroke="#000" stroke-width="1.7" stroke-linecap="round"/>
<line x1="3.2" y1="-18.2" x2="18.2" y2="-18.2" stroke="#000" stroke-width="1.0" stroke-linecap="round"/>
<line x1="9.6" y1="-17.6" x2="24.6" y2="-17.6" stroke="#000" stroke-width="1.7" stroke-linecap="round"/>
<line x1="7.1" y1="-15.4" x2="22.1" y2="-15.4" stroke="#000" stroke-width="1.0" stroke-linecap="round"/>
<line x1="13.0" y1="-11.5" x2="28.0" y2="-11.5" stroke="#000" stroke-width="1.7" stroke-linecap="round"/>
<line x1="10.1" y1="-10.8" x2="25.1" y2="-10.8" stroke="#000" stroke-width="1.0" stroke-linecap="round"/>
<line x1="14.8" y1="-4.0" x2="29.8" y2="-4.0" stroke="#000" stroke-width="1.7" stroke-linecap="round"/>
<line x1="11.9" y1="-4.9" x2="26.9" y2="-4.9" stroke="#000" stroke-width="1.0" stroke-linecap="round"/>
<path d="M12.0,0.0 L14.9,2.0 L14.8,4.0 L11.6,4.8 L11.3,6.3 L13.6,9.7 L13.0,11.5 L9.8,10.6 L9.2,11.8 L10.6,16.3 L9.6,17.6 L6.9,15.1 L6.0,15.9 L6.3,20.8 L5.1,21.6 L3.1,17.8 L2.1,18.1 L1.3,22.9 L0.0,23.0 L-1.0,18.3 L-2.1,18.1 L-3.9,22.2 L-5.1,21.6 L-5.1,16.7 L-6.0,15.9 L-8.6,18.8 L-9.6,17.6 L-8.5,13.0 L-9.2,11.8 L-12.3,13.2 L-13.0,11.5 L-10.9,7.8 L-11.3,6.3 L-14.5,6.0 L-14.8,4.0 L-12.0,1.6 L-12.0,0.0 L-14.9,-2.0 L-14.8,-4.0 L-11.6,-4.8 L-11.3,-6.3 L-13.6,-9.7 L-13.0,-11.5 L-9.8,-10.6 L-9.2,-11.8 L-10.6,-16.3 L-9.6,-17.6 L-6.9,-15.1 L-6.0,-15.9 L-6.3,-20.8 L-5.1,-21.6 L-3.1,-17.8 L-2.1,-18.1 L-1.3,-22.9 L-0.0,-23.0 L1.0,-18.3 L2.1,-18.1 L3.9,-22.2 L5.1,-21.6 L5.1,-16.7 L6.0,-15.9 L8.6,-18.8 L9.6,-17.6 L8.5,-13.0 L9.2,-11.8 L12.3,-13.2 L13.0,-11.5 L10.9,-7.8 L11.3,-6.3 L14.5,-6.0 L14.8,-4.0 L12.0,-1.6 Z" fill="#fff" stroke="#000" stroke-width="1.5" stroke-linejoin="round" stroke-linecap="round"/>
<ellipse cx="0.0" cy="0.0" rx="9.9" ry="16.1" fill="none" stroke="#000" stroke-width="1.5"/>
<ellipse cx="0.0" cy="0.0" rx="9.0" ry="14.7" fill="none" stroke="#000" stroke-width="1.0"/>
<ellipse cx="0.0" cy="0.0" rx="6.8" ry="11.5" fill="none" stroke="#000" stroke-width="1.4"/>
</g>
<g transform="translate(1236.5,255.6) rotate(-30.0)">
<path d="M0.0,-13.0 L2.5,-13.0 A8.0,13.0 0 0 1 2.5,13.0 L0.0,13.0 A8.0,13.0 0 0 1 0.0,-13.0 Z" fill="#fff" stroke="#000" stroke-width="1.3" stroke-linejoin="round"/>
<ellipse cx="0.0" cy="0.0" rx="8.0" ry="13.0" fill="#fff" stroke="#000" stroke-width="1.3"/>
<ellipse cx="0.0" cy="0.0" rx="2.8" ry="4.5" fill="none" stroke="#000" stroke-width="1.3"/>
</g>
<circle cx="1049.0" cy="285.0" r="11.5" fill="#fff" stroke="#000" stroke-width="1.5"/>
<text x="1049.5" y="290.7" font-size="14.5" font-weight="normal" text-anchor="middle" textLength="14" lengthAdjust="spacingAndGlyphs">27</text>
<line x1="1042.6" y1="293.6" x2="1036.5" y2="302.1" stroke="#000" stroke-width="1.3"/>
<path d="M1033.0,307.0 L1034.6,300.8 L1038.4,303.5 Z" fill="#000"/>
<circle cx="1000.0" cy="319.3" r="11.5" fill="#fff" stroke="#000" stroke-width="1.5"/>
<text x="1000.5" y="325.0" font-size="14.5" font-weight="normal" text-anchor="middle" textLength="14" lengthAdjust="spacingAndGlyphs">26</text>
<line x1="988.5" y1="324.3" x2="1031.6" y2="344.9" stroke="#000" stroke-width="1.3"/>
<path d="M1037.0,347.5 L1030.6,347.0 L1032.6,342.8 Z" fill="#000"/>
<circle cx="979.3" cy="346.6" r="11.5" fill="#fff" stroke="#000" stroke-width="1.5"/>
<text x="979.8" y="352.3" font-size="14.5" font-weight="normal" text-anchor="middle" textLength="14" lengthAdjust="spacingAndGlyphs">25</text>
<line x1="990.3" y1="351.3" x2="1010.6" y2="365.2" stroke="#000" stroke-width="1.3"/>
<path d="M1015.6,368.6 L1009.3,367.1 L1011.9,363.3 Z" fill="#000"/>
<circle cx="948.4" cy="376.0" r="11.5" fill="#fff" stroke="#000" stroke-width="1.5"/>
<text x="948.9" y="381.7" font-size="14.5" font-weight="normal" text-anchor="middle" textLength="14" lengthAdjust="spacingAndGlyphs">24</text>
<line x1="956.0" y1="380.0" x2="990.2" y2="387.9" stroke="#000" stroke-width="1.3"/>
<path d="M996.0,389.2 L989.6,390.1 L990.7,385.6 Z" fill="#000"/>
<circle cx="1007.6" cy="418.8" r="11.5" fill="#fff" stroke="#000" stroke-width="1.5"/>
<text x="1008.1" y="424.5" font-size="14.5" font-weight="normal" text-anchor="middle" textLength="14" lengthAdjust="spacingAndGlyphs">14</text>
<line x1="1017.4" y1="414.4" x2="1031.9" y2="406.5" stroke="#000" stroke-width="1.3"/>
<path d="M1037.2,403.6 L1033.0,408.5 L1030.8,404.5 Z" fill="#000"/>
<circle cx="1036.0" cy="443.0" r="11.5" fill="#fff" stroke="#000" stroke-width="1.5"/>
<text x="1036.5" y="448.7" font-size="14.5" font-weight="normal" text-anchor="middle" textLength="14" lengthAdjust="spacingAndGlyphs">17</text>
<line x1="1041.0" y1="434.3" x2="1052.0" y2="422.3" stroke="#000" stroke-width="1.3"/>
<path d="M1056.0,417.9 L1053.6,423.9 L1050.3,420.8 Z" fill="#000"/>
<circle cx="1198.4" cy="458.5" r="11.5" fill="#fff" stroke="#000" stroke-width="1.5"/>
<text x="1198.9" y="464.2" font-size="14.5" font-weight="normal" text-anchor="middle" textLength="14" lengthAdjust="spacingAndGlyphs">13</text>
<line x1="1189.3" y1="450.8" x2="1171.3" y2="429.3" stroke="#000" stroke-width="1.3"/>
<path d="M1167.4,424.7 L1173.0,427.8 L1169.5,430.8 Z" fill="#000"/>
<circle cx="1141.3" cy="488.0" r="11.5" fill="#fff" stroke="#000" stroke-width="1.5"/>
<text x="1141.8" y="493.7" font-size="14.5" font-weight="normal" text-anchor="middle" textLength="14" lengthAdjust="spacingAndGlyphs">21</text>
<circle cx="1153.6" cy="504.4" r="11.5" fill="#fff" stroke="#000" stroke-width="1.5"/>
<text x="1154.1" y="510.1" font-size="14.5" font-weight="normal" text-anchor="middle" textLength="14" lengthAdjust="spacingAndGlyphs">15</text>
<line x1="1130.3" y1="481.0" x2="1114.7" y2="461.0" stroke="#000" stroke-width="1.3"/>
<path d="M1111.0,456.3 L1116.5,459.6 L1112.9,462.4 Z" fill="#000"/>
<circle cx="1093.2" cy="501.6" r="11.5" fill="#fff" stroke="#000" stroke-width="1.5"/>
<text x="1093.7" y="507.3" font-size="14.5" font-weight="normal" text-anchor="middle" textLength="14" lengthAdjust="spacingAndGlyphs">22</text>
<line x1="1089.0" y1="493.4" x2="1082.2" y2="479.6" stroke="#000" stroke-width="1.3"/>
<path d="M1079.5,474.2 L1084.2,478.6 L1080.1,480.6 Z" fill="#000"/>
<circle cx="1064.3" cy="531.9" r="11.5" fill="#fff" stroke="#000" stroke-width="1.5"/>
<text x="1064.8" y="537.6" font-size="14.5" font-weight="normal" text-anchor="middle" textLength="14" lengthAdjust="spacingAndGlyphs">23</text>
<line x1="1061.6" y1="520.9" x2="1058.3" y2="497.9" stroke="#000" stroke-width="1.3"/>
<path d="M1057.5,492.0 L1060.6,497.6 L1056.1,498.3 Z" fill="#000"/>
<circle cx="1206.0" cy="362.0" r="11.5" fill="#fff" stroke="#000" stroke-width="1.5"/>
<text x="1206.5" y="367.7" font-size="14.5" font-weight="normal" text-anchor="middle" textLength="14" lengthAdjust="spacingAndGlyphs">28</text>
<line x1="1195.0" y1="356.0" x2="1180.8" y2="345.6" stroke="#000" stroke-width="1.3"/>
<path d="M1176.0,342.0 L1182.2,343.7 L1179.5,347.4 Z" fill="#000"/>
<circle cx="1126.2" cy="251.8" r="11.5" fill="#fff" stroke="#000" stroke-width="1.5"/>
<text x="1126.7" y="257.5" font-size="14.5" font-weight="normal" text-anchor="middle" textLength="14" lengthAdjust="spacingAndGlyphs">20</text>
<line x1="1131.0" y1="263.0" x2="1140.1" y2="279.7" stroke="#000" stroke-width="1.3"/>
<path d="M1143.0,285.0 L1138.1,280.8 L1142.1,278.6 Z" fill="#000"/>
<circle cx="1159.0" cy="231.8" r="11.5" fill="#fff" stroke="#000" stroke-width="1.5"/>
<text x="1159.5" y="237.5" font-size="14.5" font-weight="normal" text-anchor="middle" textLength="14" lengthAdjust="spacingAndGlyphs">19</text>
<line x1="1161.0" y1="243.5" x2="1165.8" y2="266.1" stroke="#000" stroke-width="1.3"/>
<path d="M1167.0,272.0 L1163.5,266.6 L1168.0,265.7 Z" fill="#000"/>
<circle cx="1194.2" cy="211.4" r="11.5" fill="#fff" stroke="#000" stroke-width="1.5"/>
<text x="1194.7" y="217.1" font-size="14.5" font-weight="normal" text-anchor="middle" textLength="14" lengthAdjust="spacingAndGlyphs">18</text>
<line x1="1195.0" y1="223.0" x2="1196.5" y2="240.0" stroke="#000" stroke-width="1.3"/>
<path d="M1197.0,246.0 L1194.2,240.2 L1198.8,239.8 Z" fill="#000"/>
<circle cx="1244.8" cy="198.9" r="11.5" fill="#fff" stroke="#000" stroke-width="1.5"/>
<text x="1245.3" y="204.6" font-size="14.5" font-weight="normal" text-anchor="middle" textLength="14" lengthAdjust="spacingAndGlyphs">29</text>
<line x1="1243.0" y1="210.5" x2="1241.5" y2="227.0" stroke="#000" stroke-width="1.3"/>
<path d="M1241.0,233.0 L1239.2,226.8 L1243.8,227.2 Z" fill="#000"/>
</svg></body></html>
